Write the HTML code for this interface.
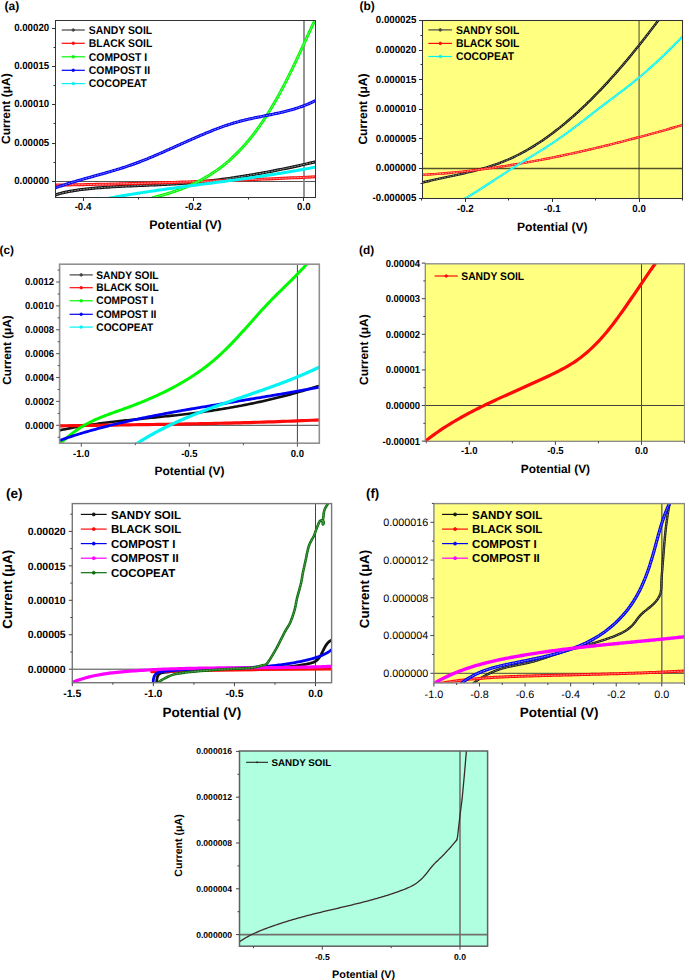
<!DOCTYPE html>
<html><head><meta charset="utf-8"><title>I-V curves</title>
<style>
html,body{margin:0;padding:0;background:#fff;width:685px;height:980px;overflow:hidden}
svg{display:block}
text{font-family:"Liberation Sans", sans-serif;text-rendering:geometricPrecision}
</style></head><body>
<svg width="685" height="980" viewBox="0 0 685 980">
<clipPath id="ca"><rect x="55.5" y="20.5" width="260" height="177"/></clipPath>
<line x1="55.5" y1="181.5" x2="315.5" y2="181.5" stroke="#555" stroke-width="1"/>
<line x1="304" y1="20.5" x2="304" y2="197.5" stroke="#8a8a8a" stroke-width="1.8"/>
<path d="M53.79 195.45 L56.05 194.71 L58.32 194.03 L60.61 193.4 L62.9 192.81 L65.21 192.28 L67.53 191.79 L69.86 191.34 L72.2 190.92 L74.55 190.54 L76.9 190.18 L79.26 189.86 L81.62 189.55 L83.98 189.26 L86.35 188.99 L88.72 188.74 L91.09 188.5 L93.46 188.27 L95.84 188.05 L98.21 187.85 L100.59 187.65 L102.97 187.47 L105.35 187.3 L107.74 187.13 L110.12 186.98 L112.51 186.83 L114.89 186.69 L117.28 186.56 L119.67 186.44 L122.06 186.32 L124.45 186.2 L126.84 186.09 L129.23 185.99 L131.62 185.89 L134.01 185.79 L136.41 185.69 L138.8 185.59 L141.19 185.5 L143.59 185.41 L145.98 185.31 L148.37 185.22 L150.77 185.12 L153.16 185.03 L155.55 184.93 L157.95 184.82 L160.34 184.72 L162.73 184.61 L165.12 184.49 L167.51 184.37 L169.9 184.24 L172.29 184.11 L174.68 183.97 L177.07 183.82 L179.45 183.66 L181.84 183.49 L184.22 183.32 L186.6 183.13 L188.98 182.94 L191.36 182.74 L193.74 182.53 L196.12 182.31 L198.5 182.08 L200.87 181.84 L203.25 181.6 L205.62 181.34 L207.99 181.08 L210.36 180.81 L212.73 180.53 L215.1 180.25 L217.47 179.95 L219.84 179.65 L222.2 179.34 L224.57 179.02 L226.93 178.7 L229.29 178.37 L231.65 178.03 L234.01 177.68 L236.37 177.33 L238.73 176.97 L241.09 176.6 L243.45 176.23 L245.8 175.84 L248.16 175.46 L250.51 175.06 L252.86 174.66 L255.21 174.25 L257.56 173.84 L259.91 173.42 L262.26 172.99 L264.61 172.56 L266.96 172.12 L269.3 171.68 L271.65 171.23 L273.99 170.77 L276.34 170.31 L278.68 169.84 L281.02 169.37 L283.36 168.89 L285.7 168.41 L288.04 167.92 L290.38 167.43 L292.71 166.93 L295.05 166.43 L297.39 165.92 L299.72 165.41 L302.06 164.89 L304.39 164.37 L306.72 163.84 L309.05 163.31 L311.38 162.78 L313.71 162.24 L316.04 161.7" fill="none" stroke="#111" stroke-width="3" stroke-linejoin="round" stroke-linecap="round" clip-path="url(#ca)"/>
<path d="M53.79 195.45 L56.05 194.71 L58.32 194.03 L60.61 193.4 L62.9 192.81 L65.21 192.28 L67.53 191.79 L69.86 191.34 L72.2 190.92 L74.55 190.54 L76.9 190.18 L79.26 189.86 L81.62 189.55 L83.98 189.26 L86.35 188.99 L88.72 188.74 L91.09 188.5 L93.46 188.27 L95.84 188.05 L98.21 187.85 L100.59 187.65 L102.97 187.47 L105.35 187.3 L107.74 187.13 L110.12 186.98 L112.51 186.83 L114.89 186.69 L117.28 186.56 L119.67 186.44 L122.06 186.32 L124.45 186.2 L126.84 186.09 L129.23 185.99 L131.62 185.89 L134.01 185.79 L136.41 185.69 L138.8 185.59 L141.19 185.5 L143.59 185.41 L145.98 185.31 L148.37 185.22 L150.77 185.12 L153.16 185.03 L155.55 184.93 L157.95 184.82 L160.34 184.72 L162.73 184.61 L165.12 184.49 L167.51 184.37 L169.9 184.24 L172.29 184.11 L174.68 183.97 L177.07 183.82 L179.45 183.66 L181.84 183.49 L184.22 183.32 L186.6 183.13 L188.98 182.94 L191.36 182.74 L193.74 182.53 L196.12 182.31 L198.5 182.08 L200.87 181.84 L203.25 181.6 L205.62 181.34 L207.99 181.08 L210.36 180.81 L212.73 180.53 L215.1 180.25 L217.47 179.95 L219.84 179.65 L222.2 179.34 L224.57 179.02 L226.93 178.7 L229.29 178.37 L231.65 178.03 L234.01 177.68 L236.37 177.33 L238.73 176.97 L241.09 176.6 L243.45 176.23 L245.8 175.84 L248.16 175.46 L250.51 175.06 L252.86 174.66 L255.21 174.25 L257.56 173.84 L259.91 173.42 L262.26 172.99 L264.61 172.56 L266.96 172.12 L269.3 171.68 L271.65 171.23 L273.99 170.77 L276.34 170.31 L278.68 169.84 L281.02 169.37 L283.36 168.89 L285.7 168.41 L288.04 167.92 L290.38 167.43 L292.71 166.93 L295.05 166.43 L297.39 165.92 L299.72 165.41 L302.06 164.89 L304.39 164.37 L306.72 163.84 L309.05 163.31 L311.38 162.78 L313.71 162.24 L316.04 161.7" fill="none" stroke="#aaa" stroke-width="0.8" stroke-linejoin="round" stroke-linecap="round" clip-path="url(#ca)" stroke-dasharray="1.5 1.5"/>
<path d="M54 185.13 L58.77 185.06 L63.53 184.98 L68.3 184.9 L73.06 184.82 L77.83 184.73 L82.59 184.65 L87.36 184.55 L92.13 184.46 L96.89 184.36 L101.66 184.26 L106.42 184.16 L111.19 184.05 L115.95 183.94 L120.72 183.83 L125.48 183.71 L130.25 183.59 L135.01 183.47 L139.77 183.34 L144.54 183.21 L149.3 183.08 L154.07 182.95 L158.83 182.81 L163.6 182.67 L168.36 182.53 L173.12 182.38 L177.89 182.23 L182.65 182.08 L187.41 181.93 L192.18 181.77 L196.94 181.61 L201.71 181.45 L206.47 181.28 L211.23 181.12 L215.99 180.95 L220.76 180.77 L225.52 180.6 L230.28 180.42 L235.05 180.23 L239.81 180.05 L244.57 179.86 L249.33 179.67 L254.1 179.48 L258.86 179.29 L263.62 179.09 L268.38 178.89 L273.14 178.69 L277.91 178.48 L282.67 178.27 L287.43 178.06 L292.19 177.85 L296.95 177.64 L301.71 177.42 L306.48 177.2 L311.24 176.98 L316 176.75" fill="none" stroke="#ff0a0a" stroke-width="3" stroke-linejoin="round" stroke-linecap="round" clip-path="url(#ca)"/>
<path d="M54 185.13 L58.77 185.06 L63.53 184.98 L68.3 184.9 L73.06 184.82 L77.83 184.73 L82.59 184.65 L87.36 184.55 L92.13 184.46 L96.89 184.36 L101.66 184.26 L106.42 184.16 L111.19 184.05 L115.95 183.94 L120.72 183.83 L125.48 183.71 L130.25 183.59 L135.01 183.47 L139.77 183.34 L144.54 183.21 L149.3 183.08 L154.07 182.95 L158.83 182.81 L163.6 182.67 L168.36 182.53 L173.12 182.38 L177.89 182.23 L182.65 182.08 L187.41 181.93 L192.18 181.77 L196.94 181.61 L201.71 181.45 L206.47 181.28 L211.23 181.12 L215.99 180.95 L220.76 180.77 L225.52 180.6 L230.28 180.42 L235.05 180.23 L239.81 180.05 L244.57 179.86 L249.33 179.67 L254.1 179.48 L258.86 179.29 L263.62 179.09 L268.38 178.89 L273.14 178.69 L277.91 178.48 L282.67 178.27 L287.43 178.06 L292.19 177.85 L296.95 177.64 L301.71 177.42 L306.48 177.2 L311.24 176.98 L316 176.75" fill="none" stroke="#ffbbbb" stroke-width="0.8" stroke-linejoin="round" stroke-linecap="round" clip-path="url(#ca)" stroke-dasharray="1.5 1.5"/>
<path d="M153.2 197.44 L154.63 197.11 L156.06 196.77 L157.48 196.42 L158.9 196.06 L160.32 195.69 L161.74 195.32 L163.16 194.93 L164.57 194.53 L165.98 194.12 L167.38 193.71 L168.78 193.28 L170.18 192.84 L171.58 192.4 L172.97 191.94 L174.36 191.47 L175.74 191 L177.12 190.51 L178.49 190.01 L179.86 189.51 L181.23 188.99 L182.59 188.46 L183.95 187.92 L185.3 187.37 L186.65 186.81 L187.99 186.24 L189.32 185.66 L190.65 185.07 L191.98 184.47 L193.29 183.86 L194.61 183.24 L195.91 182.6 L197.21 181.96 L198.51 181.3 L199.79 180.64 L201.07 179.96 L202.34 179.27 L203.61 178.57 L204.87 177.86 L206.12 177.14 L207.37 176.41 L208.6 175.66 L209.83 174.91 L211.05 174.14 L212.26 173.36 L213.47 172.57 L214.66 171.77 L215.85 170.96 L217.03 170.14 L218.2 169.3 L219.36 168.45 L220.52 167.6 L221.66 166.73 L222.79 165.84 L223.92 164.95 L225.04 164.05 L226.14 163.13 L227.24 162.21 L228.33 161.27 L229.42 160.32 L230.49 159.37 L231.55 158.4 L232.61 157.43 L233.66 156.44 L234.7 155.44 L235.73 154.44 L236.75 153.42 L237.77 152.4 L238.78 151.37 L239.78 150.33 L240.77 149.28 L241.75 148.22 L242.73 147.16 L243.7 146.08 L244.66 145 L245.61 143.91 L246.55 142.82 L247.49 141.71 L248.42 140.6 L249.35 139.48 L250.26 138.36 L251.17 137.23 L252.07 136.09 L252.97 134.95 L253.85 133.8 L254.73 132.64 L255.61 131.48 L256.48 130.31 L257.34 129.14 L258.19 127.96 L259.04 126.78 L259.88 125.59 L260.71 124.4 L261.54 123.2 L262.36 122 L263.17 120.8 L263.98 119.59 L264.78 118.37 L265.58 117.16 L266.37 115.93 L267.15 114.71 L267.93 113.48 L268.7 112.25 L269.47 111.01 L270.23 109.78 L270.99 108.53 L271.74 107.29 L272.48 106.04 L273.23 104.79 L273.96 103.54 L274.69 102.28 L275.42 101.02 L276.14 99.76 L276.85 98.49 L277.57 97.22 L278.27 95.95 L278.98 94.68 L279.67 93.4 L280.37 92.12 L281.06 90.84 L281.74 89.56 L282.43 88.28 L283.1 86.99 L283.78 85.7 L284.45 84.41 L285.12 83.12 L285.78 81.82 L286.44 80.52 L287.1 79.23 L287.76 77.93 L288.41 76.63 L289.06 75.32 L289.7 74.02 L290.34 72.71 L290.98 71.41 L291.62 70.1 L292.26 68.79 L292.89 67.48 L293.52 66.17 L294.15 64.86 L294.77 63.55 L295.4 62.23 L296.02 60.92 L296.64 59.6 L297.26 58.29 L297.88 56.97 L298.49 55.66 L299.11 54.34 L299.72 53.02 L300.33 51.71 L300.94 50.39 L301.55 49.07 L302.16 47.76 L302.76 46.44 L303.37 45.12 L303.98 43.81 L304.58 42.49 L305.19 41.18 L305.79 39.86 L306.4 38.55 L307 37.23 L307.6 35.92 L308.21 34.61 L308.81 33.29 L309.42 31.98 L310.02 30.67 L310.62 29.36 L311.23 28.06 L311.83 26.75 L312.44 25.44 L313.05 24.14 L313.66 22.84 L314.26 21.54 L314.87 20.24 L315.49 18.94 L316.1 17.64" fill="none" stroke="#00f800" stroke-width="3" stroke-linejoin="round" stroke-linecap="round" clip-path="url(#ca)"/>
<path d="M153.2 197.44 L154.63 197.11 L156.06 196.77 L157.48 196.42 L158.9 196.06 L160.32 195.69 L161.74 195.32 L163.16 194.93 L164.57 194.53 L165.98 194.12 L167.38 193.71 L168.78 193.28 L170.18 192.84 L171.58 192.4 L172.97 191.94 L174.36 191.47 L175.74 191 L177.12 190.51 L178.49 190.01 L179.86 189.51 L181.23 188.99 L182.59 188.46 L183.95 187.92 L185.3 187.37 L186.65 186.81 L187.99 186.24 L189.32 185.66 L190.65 185.07 L191.98 184.47 L193.29 183.86 L194.61 183.24 L195.91 182.6 L197.21 181.96 L198.51 181.3 L199.79 180.64 L201.07 179.96 L202.34 179.27 L203.61 178.57 L204.87 177.86 L206.12 177.14 L207.37 176.41 L208.6 175.66 L209.83 174.91 L211.05 174.14 L212.26 173.36 L213.47 172.57 L214.66 171.77 L215.85 170.96 L217.03 170.14 L218.2 169.3 L219.36 168.45 L220.52 167.6 L221.66 166.73 L222.79 165.84 L223.92 164.95 L225.04 164.05 L226.14 163.13 L227.24 162.21 L228.33 161.27 L229.42 160.32 L230.49 159.37 L231.55 158.4 L232.61 157.43 L233.66 156.44 L234.7 155.44 L235.73 154.44 L236.75 153.42 L237.77 152.4 L238.78 151.37 L239.78 150.33 L240.77 149.28 L241.75 148.22 L242.73 147.16 L243.7 146.08 L244.66 145 L245.61 143.91 L246.55 142.82 L247.49 141.71 L248.42 140.6 L249.35 139.48 L250.26 138.36 L251.17 137.23 L252.07 136.09 L252.97 134.95 L253.85 133.8 L254.73 132.64 L255.61 131.48 L256.48 130.31 L257.34 129.14 L258.19 127.96 L259.04 126.78 L259.88 125.59 L260.71 124.4 L261.54 123.2 L262.36 122 L263.17 120.8 L263.98 119.59 L264.78 118.37 L265.58 117.16 L266.37 115.93 L267.15 114.71 L267.93 113.48 L268.7 112.25 L269.47 111.01 L270.23 109.78 L270.99 108.53 L271.74 107.29 L272.48 106.04 L273.23 104.79 L273.96 103.54 L274.69 102.28 L275.42 101.02 L276.14 99.76 L276.85 98.49 L277.57 97.22 L278.27 95.95 L278.98 94.68 L279.67 93.4 L280.37 92.12 L281.06 90.84 L281.74 89.56 L282.43 88.28 L283.1 86.99 L283.78 85.7 L284.45 84.41 L285.12 83.12 L285.78 81.82 L286.44 80.52 L287.1 79.23 L287.76 77.93 L288.41 76.63 L289.06 75.32 L289.7 74.02 L290.34 72.71 L290.98 71.41 L291.62 70.1 L292.26 68.79 L292.89 67.48 L293.52 66.17 L294.15 64.86 L294.77 63.55 L295.4 62.23 L296.02 60.92 L296.64 59.6 L297.26 58.29 L297.88 56.97 L298.49 55.66 L299.11 54.34 L299.72 53.02 L300.33 51.71 L300.94 50.39 L301.55 49.07 L302.16 47.76 L302.76 46.44 L303.37 45.12 L303.98 43.81 L304.58 42.49 L305.19 41.18 L305.79 39.86 L306.4 38.55 L307 37.23 L307.6 35.92 L308.21 34.61 L308.81 33.29 L309.42 31.98 L310.02 30.67 L310.62 29.36 L311.23 28.06 L311.83 26.75 L312.44 25.44 L313.05 24.14 L313.66 22.84 L314.26 21.54 L314.87 20.24 L315.49 18.94 L316.1 17.64" fill="none" stroke="#aaffaa" stroke-width="0.8" stroke-linejoin="round" stroke-linecap="round" clip-path="url(#ca)" stroke-dasharray="1.5 1.5"/>
<path d="M54.03 188.38 L55.39 187.88 L56.76 187.39 L58.12 186.91 L59.49 186.44 L60.86 185.97 L62.24 185.51 L63.61 185.05 L64.99 184.6 L66.37 184.16 L67.75 183.72 L69.14 183.29 L70.52 182.86 L71.91 182.43 L73.3 182.02 L74.69 181.6 L76.08 181.19 L77.47 180.78 L78.87 180.37 L80.26 179.97 L81.66 179.57 L83.05 179.18 L84.45 178.78 L85.85 178.39 L87.25 178 L88.65 177.61 L90.05 177.22 L91.45 176.83 L92.85 176.44 L94.25 176.06 L95.65 175.67 L97.05 175.28 L98.45 174.89 L99.85 174.51 L101.25 174.12 L102.65 173.73 L104.05 173.33 L105.44 172.94 L106.84 172.54 L108.24 172.14 L109.63 171.74 L111.03 171.34 L112.42 170.93 L113.81 170.52 L115.2 170.1 L116.59 169.68 L117.98 169.26 L119.37 168.83 L120.75 168.4 L122.13 167.96 L123.51 167.52 L124.89 167.07 L126.27 166.62 L127.64 166.16 L129.02 165.69 L130.38 165.22 L131.75 164.74 L133.12 164.25 L134.48 163.76 L135.84 163.26 L137.2 162.75 L138.55 162.24 L139.91 161.73 L141.26 161.2 L142.61 160.68 L143.96 160.14 L145.31 159.6 L146.65 159.06 L147.99 158.52 L149.34 157.96 L150.68 157.41 L152.02 156.85 L153.35 156.29 L154.69 155.72 L156.02 155.15 L157.36 154.58 L158.69 154 L160.02 153.42 L161.35 152.84 L162.68 152.26 L164.01 151.67 L165.34 151.08 L166.67 150.49 L168 149.9 L169.32 149.31 L170.65 148.72 L171.97 148.12 L173.3 147.53 L174.62 146.93 L175.95 146.33 L177.27 145.74 L178.6 145.14 L179.92 144.54 L181.25 143.94 L182.57 143.35 L183.9 142.75 L185.22 142.16 L186.55 141.56 L187.87 140.97 L189.2 140.38 L190.53 139.79 L191.85 139.2 L193.18 138.62 L194.51 138.04 L195.84 137.45 L197.17 136.88 L198.5 136.3 L199.84 135.73 L201.17 135.16 L202.5 134.59 L203.84 134.03 L205.18 133.47 L206.52 132.92 L207.86 132.37 L209.2 131.82 L210.54 131.28 L211.88 130.74 L213.23 130.21 L214.58 129.69 L215.93 129.17 L217.28 128.65 L218.63 128.14 L219.99 127.64 L221.35 127.15 L222.71 126.66 L224.07 126.18 L225.43 125.7 L226.8 125.24 L228.17 124.78 L229.54 124.33 L230.92 123.89 L232.3 123.46 L233.68 123.04 L235.06 122.62 L236.45 122.22 L237.84 121.83 L239.23 121.44 L240.62 121.07 L242.02 120.71 L243.42 120.36 L244.83 120.02 L246.24 119.68 L247.65 119.36 L249.06 119.04 L250.47 118.73 L251.89 118.42 L253.3 118.12 L254.72 117.83 L256.14 117.54 L257.56 117.25 L258.99 116.97 L260.41 116.68 L261.83 116.4 L263.26 116.12 L264.68 115.84 L266.1 115.56 L267.53 115.28 L268.95 115 L270.37 114.72 L271.8 114.43 L273.22 114.14 L274.64 113.84 L276.06 113.54 L277.47 113.24 L278.89 112.93 L280.3 112.61 L281.71 112.29 L283.12 111.96 L284.53 111.62 L285.94 111.27 L287.34 110.91 L288.74 110.55 L290.14 110.17 L291.53 109.78 L292.92 109.38 L294.31 108.97 L295.7 108.55 L297.08 108.11 L298.45 107.66 L299.83 107.2 L301.19 106.72 L302.56 106.22 L303.92 105.71 L305.27 105.19 L306.62 104.64 L307.97 104.08 L309.31 103.5 L310.64 102.9 L311.97 102.29 L313.29 101.65 L314.61 100.99 L315.92 100.31" fill="none" stroke="#0000f4" stroke-width="3" stroke-linejoin="round" stroke-linecap="round" clip-path="url(#ca)"/>
<path d="M54.03 188.38 L55.39 187.88 L56.76 187.39 L58.12 186.91 L59.49 186.44 L60.86 185.97 L62.24 185.51 L63.61 185.05 L64.99 184.6 L66.37 184.16 L67.75 183.72 L69.14 183.29 L70.52 182.86 L71.91 182.43 L73.3 182.02 L74.69 181.6 L76.08 181.19 L77.47 180.78 L78.87 180.37 L80.26 179.97 L81.66 179.57 L83.05 179.18 L84.45 178.78 L85.85 178.39 L87.25 178 L88.65 177.61 L90.05 177.22 L91.45 176.83 L92.85 176.44 L94.25 176.06 L95.65 175.67 L97.05 175.28 L98.45 174.89 L99.85 174.51 L101.25 174.12 L102.65 173.73 L104.05 173.33 L105.44 172.94 L106.84 172.54 L108.24 172.14 L109.63 171.74 L111.03 171.34 L112.42 170.93 L113.81 170.52 L115.2 170.1 L116.59 169.68 L117.98 169.26 L119.37 168.83 L120.75 168.4 L122.13 167.96 L123.51 167.52 L124.89 167.07 L126.27 166.62 L127.64 166.16 L129.02 165.69 L130.38 165.22 L131.75 164.74 L133.12 164.25 L134.48 163.76 L135.84 163.26 L137.2 162.75 L138.55 162.24 L139.91 161.73 L141.26 161.2 L142.61 160.68 L143.96 160.14 L145.31 159.6 L146.65 159.06 L147.99 158.52 L149.34 157.96 L150.68 157.41 L152.02 156.85 L153.35 156.29 L154.69 155.72 L156.02 155.15 L157.36 154.58 L158.69 154 L160.02 153.42 L161.35 152.84 L162.68 152.26 L164.01 151.67 L165.34 151.08 L166.67 150.49 L168 149.9 L169.32 149.31 L170.65 148.72 L171.97 148.12 L173.3 147.53 L174.62 146.93 L175.95 146.33 L177.27 145.74 L178.6 145.14 L179.92 144.54 L181.25 143.94 L182.57 143.35 L183.9 142.75 L185.22 142.16 L186.55 141.56 L187.87 140.97 L189.2 140.38 L190.53 139.79 L191.85 139.2 L193.18 138.62 L194.51 138.04 L195.84 137.45 L197.17 136.88 L198.5 136.3 L199.84 135.73 L201.17 135.16 L202.5 134.59 L203.84 134.03 L205.18 133.47 L206.52 132.92 L207.86 132.37 L209.2 131.82 L210.54 131.28 L211.88 130.74 L213.23 130.21 L214.58 129.69 L215.93 129.17 L217.28 128.65 L218.63 128.14 L219.99 127.64 L221.35 127.15 L222.71 126.66 L224.07 126.18 L225.43 125.7 L226.8 125.24 L228.17 124.78 L229.54 124.33 L230.92 123.89 L232.3 123.46 L233.68 123.04 L235.06 122.62 L236.45 122.22 L237.84 121.83 L239.23 121.44 L240.62 121.07 L242.02 120.71 L243.42 120.36 L244.83 120.02 L246.24 119.68 L247.65 119.36 L249.06 119.04 L250.47 118.73 L251.89 118.42 L253.3 118.12 L254.72 117.83 L256.14 117.54 L257.56 117.25 L258.99 116.97 L260.41 116.68 L261.83 116.4 L263.26 116.12 L264.68 115.84 L266.1 115.56 L267.53 115.28 L268.95 115 L270.37 114.72 L271.8 114.43 L273.22 114.14 L274.64 113.84 L276.06 113.54 L277.47 113.24 L278.89 112.93 L280.3 112.61 L281.71 112.29 L283.12 111.96 L284.53 111.62 L285.94 111.27 L287.34 110.91 L288.74 110.55 L290.14 110.17 L291.53 109.78 L292.92 109.38 L294.31 108.97 L295.7 108.55 L297.08 108.11 L298.45 107.66 L299.83 107.2 L301.19 106.72 L302.56 106.22 L303.92 105.71 L305.27 105.19 L306.62 104.64 L307.97 104.08 L309.31 103.5 L310.64 102.9 L311.97 102.29 L313.29 101.65 L314.61 100.99 L315.92 100.31" fill="none" stroke="#9999ff" stroke-width="0.8" stroke-linejoin="round" stroke-linecap="round" clip-path="url(#ca)" stroke-dasharray="1.5 1.5"/>
<path d="M106.9 198.56 L109.09 198.16 L111.28 197.76 L113.47 197.36 L115.66 196.97 L117.85 196.59 L120.04 196.21 L122.23 195.83 L124.43 195.46 L126.62 195.1 L128.82 194.73 L131.01 194.38 L133.21 194.02 L135.41 193.67 L137.6 193.32 L139.8 192.98 L142 192.64 L144.2 192.3 L146.4 191.97 L148.6 191.64 L150.8 191.31 L153 190.98 L155.2 190.66 L157.41 190.34 L159.61 190.03 L161.81 189.71 L164.02 189.4 L166.22 189.09 L168.43 188.78 L170.63 188.48 L172.84 188.17 L175.04 187.87 L177.25 187.57 L179.45 187.27 L181.66 186.97 L183.87 186.68 L186.07 186.38 L188.28 186.09 L190.49 185.79 L192.7 185.5 L194.9 185.21 L197.11 184.92 L199.32 184.63 L201.53 184.34 L203.74 184.05 L205.94 183.76 L208.15 183.47 L210.36 183.18 L212.57 182.89 L214.78 182.6 L216.99 182.31 L219.19 182.02 L221.4 181.73 L223.61 181.43 L225.82 181.14 L228.03 180.85 L230.23 180.55 L232.44 180.26 L234.65 179.96 L236.85 179.66 L239.06 179.36 L241.27 179.05 L243.47 178.75 L245.68 178.44 L247.88 178.14 L250.09 177.83 L252.3 177.51 L254.5 177.2 L256.7 176.88 L258.91 176.56 L261.11 176.24 L263.31 175.91 L265.52 175.58 L267.72 175.25 L269.92 174.92 L272.12 174.58 L274.32 174.24 L276.52 173.89 L278.72 173.55 L280.92 173.19 L283.12 172.84 L285.31 172.48 L287.51 172.12 L289.71 171.75 L291.9 171.38 L294.1 171 L296.29 170.62 L298.48 170.23 L300.68 169.84 L302.87 169.45 L305.06 169.05 L307.25 168.64 L309.44 168.23 L311.62 167.81 L313.81 167.39 L316 166.97" fill="none" stroke="#00f4f4" stroke-width="3" stroke-linejoin="round" stroke-linecap="round" clip-path="url(#ca)"/>
<rect x="55.5" y="20.5" width="260" height="177" fill="none" stroke="#333" stroke-width="1"/>
<line x1="52" y1="181.5" x2="55.5" y2="181.5" stroke="#333" stroke-width="1"/>
<line x1="52" y1="143.5" x2="55.5" y2="143.5" stroke="#333" stroke-width="1"/>
<line x1="52" y1="104.5" x2="55.5" y2="104.5" stroke="#333" stroke-width="1"/>
<line x1="52" y1="66.5" x2="55.5" y2="66.5" stroke="#333" stroke-width="1"/>
<line x1="52" y1="28.5" x2="55.5" y2="28.5" stroke="#333" stroke-width="1"/>
<line x1="53.5" y1="162.5" x2="55.5" y2="162.5" stroke="#333" stroke-width="1"/>
<line x1="53.5" y1="123.5" x2="55.5" y2="123.5" stroke="#333" stroke-width="1"/>
<line x1="53.5" y1="85.5" x2="55.5" y2="85.5" stroke="#333" stroke-width="1"/>
<line x1="53.5" y1="47.5" x2="55.5" y2="47.5" stroke="#333" stroke-width="1"/>
<line x1="83.5" y1="197.5" x2="83.5" y2="201" stroke="#333" stroke-width="1"/>
<line x1="193.5" y1="197.5" x2="193.5" y2="201" stroke="#333" stroke-width="1"/>
<line x1="303.5" y1="197.5" x2="303.5" y2="201" stroke="#333" stroke-width="1"/>
<line x1="138.5" y1="197.5" x2="138.5" y2="199.5" stroke="#333" stroke-width="1"/>
<line x1="248.5" y1="197.5" x2="248.5" y2="199.5" stroke="#333" stroke-width="1"/>
<text x="49.2" y="184" font-size="10.28" font-weight="bold" text-anchor="end" fill="#000" textLength="35.06" lengthAdjust="spacingAndGlyphs">0.00000</text>
<text x="49.2" y="145.73" font-size="10.28" font-weight="bold" text-anchor="end" fill="#000" textLength="35.06" lengthAdjust="spacingAndGlyphs">0.00005</text>
<text x="49.2" y="107.46" font-size="10.28" font-weight="bold" text-anchor="end" fill="#000" textLength="35.06" lengthAdjust="spacingAndGlyphs">0.00010</text>
<text x="49.2" y="69.19" font-size="10.28" font-weight="bold" text-anchor="end" fill="#000" textLength="35.06" lengthAdjust="spacingAndGlyphs">0.00015</text>
<text x="49.2" y="30.92" font-size="10.28" font-weight="bold" text-anchor="end" fill="#000" textLength="35.06" lengthAdjust="spacingAndGlyphs">0.00020</text>
<text x="83" y="210.4" font-size="10.28" font-weight="bold" text-anchor="middle" fill="#000" textLength="16.72" lengthAdjust="spacingAndGlyphs">-0.4</text>
<text x="193.4" y="210.4" font-size="10.28" font-weight="bold" text-anchor="middle" fill="#000" textLength="16.72" lengthAdjust="spacingAndGlyphs">-0.2</text>
<text x="303.8" y="210.4" font-size="10.28" font-weight="bold" text-anchor="middle" fill="#000" textLength="13.48" lengthAdjust="spacingAndGlyphs">0.0</text>
<text x="185.5" y="229" font-size="12.4" font-weight="bold" text-anchor="middle" fill="#000">Potential (V)</text>
<text x="9.8" y="108.7" font-size="12" font-weight="bold" text-anchor="middle" fill="#000" transform="rotate(-90 9.8 108.7)">Current (&#956;A)</text>
<text x="4.5" y="9.5" font-size="12" font-weight="bold" text-anchor="start" fill="#000">(a)</text>
<line x1="61.7" y1="30" x2="84.8" y2="30" stroke="#444" stroke-width="1.2"/>
<circle cx="73.25" cy="30" r="1.3" fill="#444" stroke="#444" stroke-width="0.8"/>
<text x="88.8" y="33.7" font-size="11.23" font-weight="bold" text-anchor="start" fill="#000" textLength="63.38" lengthAdjust="spacingAndGlyphs">SANDY SOIL</text>
<line x1="61.7" y1="43.3" x2="84.8" y2="43.3" stroke="#ff0a0a" stroke-width="1.2"/>
<circle cx="73.25" cy="43.3" r="1.3" fill="#ff0a0a" stroke="#ff0a0a" stroke-width="0.8"/>
<text x="88.8" y="47" font-size="11.23" font-weight="bold" text-anchor="start" fill="#000" textLength="63.55" lengthAdjust="spacingAndGlyphs">BLACK SOIL</text>
<line x1="61.7" y1="56.8" x2="84.8" y2="56.8" stroke="#00f800" stroke-width="1.2"/>
<circle cx="73.25" cy="56.8" r="1.3" fill="#00f800" stroke="#00f800" stroke-width="0.8"/>
<text x="88.8" y="60.5" font-size="11.23" font-weight="bold" text-anchor="start" fill="#000" textLength="58.36" lengthAdjust="spacingAndGlyphs">COMPOST I</text>
<line x1="61.7" y1="70.3" x2="84.8" y2="70.3" stroke="#0000f4" stroke-width="1.2"/>
<circle cx="73.25" cy="70.3" r="1.3" fill="#0000f4" stroke="#0000f4" stroke-width="0.8"/>
<text x="88.8" y="74" font-size="11.23" font-weight="bold" text-anchor="start" fill="#000" textLength="61.25" lengthAdjust="spacingAndGlyphs">COMPOST II</text>
<line x1="61.7" y1="83.6" x2="84.8" y2="83.6" stroke="#00f4f4" stroke-width="1.2"/>
<circle cx="73.25" cy="83.6" r="1.3" fill="#00f4f4" stroke="#00f4f4" stroke-width="0.8"/>
<text x="88.8" y="87.3" font-size="11.23" font-weight="bold" text-anchor="start" fill="#000" textLength="58.17" lengthAdjust="spacingAndGlyphs">COCOPEAT</text>
<clipPath id="cb"><rect x="422.5" y="20.5" width="260" height="178"/></clipPath>
<rect x="422.5" y="20.5" width="260" height="178" fill="#ffff80"/>
<line x1="422.5" y1="168.5" x2="682.5" y2="168.5" stroke="rgba(0,0,0,0.68)" stroke-width="1.3"/>
<line x1="639.1" y1="20.5" x2="639.1" y2="198.5" stroke="rgba(40,40,40,0.5)" stroke-width="1.7"/>
<path d="M420.03 183.16 L422.28 182.59 L424.55 182.04 L426.83 181.5 L429.12 180.97 L431.42 180.44 L433.73 179.93 L436.04 179.41 L438.37 178.9 L440.7 178.4 L443.03 177.89 L445.37 177.39 L447.72 176.89 L450.07 176.38 L452.42 175.87 L454.77 175.36 L457.12 174.84 L459.48 174.32 L461.83 173.79 L464.19 173.25 L466.54 172.7 L468.89 172.13 L471.23 171.56 L473.57 170.97 L475.91 170.37 L478.24 169.75 L480.56 169.12 L482.88 168.47 L485.19 167.8 L487.49 167.11 L489.78 166.39 L492.06 165.66 L494.33 164.9 L496.59 164.11 L498.84 163.3 L501.07 162.46 L503.29 161.59 L505.49 160.7 L507.68 159.77 L509.86 158.82 L512.02 157.84 L514.17 156.83 L516.3 155.79 L518.42 154.73 L520.53 153.65 L522.62 152.53 L524.7 151.4 L526.77 150.24 L528.82 149.05 L530.86 147.85 L532.89 146.62 L534.9 145.37 L536.91 144.09 L538.9 142.8 L540.88 141.49 L542.84 140.15 L544.8 138.8 L546.74 137.43 L548.68 136.04 L550.6 134.63 L552.51 133.21 L554.4 131.77 L556.29 130.32 L558.17 128.84 L560.03 127.36 L561.89 125.86 L563.73 124.34 L565.57 122.82 L567.39 121.27 L569.21 119.72 L571.01 118.16 L572.81 116.58 L574.59 115 L576.37 113.4 L578.13 111.79 L579.89 110.18 L581.64 108.55 L583.38 106.91 L585.11 105.27 L586.83 103.61 L588.54 101.95 L590.25 100.27 L591.94 98.59 L593.63 96.9 L595.31 95.2 L596.98 93.49 L598.64 91.77 L600.3 90.05 L601.94 88.32 L603.58 86.58 L605.21 84.83 L606.84 83.08 L608.45 81.32 L610.06 79.55 L611.66 77.77 L613.26 75.99 L614.85 74.21 L616.43 72.41 L618 70.61 L619.57 68.81 L621.13 67 L622.68 65.18 L624.23 63.36 L625.77 61.53 L627.3 59.7 L628.83 57.87 L630.35 56.03 L631.87 54.18 L633.38 52.33 L634.89 50.48 L636.39 48.62 L637.88 46.76 L639.37 44.9 L640.85 43.03 L642.33 41.16 L643.8 39.29 L645.27 37.42 L646.73 35.54 L648.19 33.66 L649.65 31.78 L651.09 29.89 L652.54 28.01 L653.98 26.12 L655.42 24.23 L656.85 22.34 L658.27 20.45 L659.7 18.56 L661.12 16.66" fill="none" stroke="#111" stroke-width="2.4" stroke-linejoin="round" stroke-linecap="round" clip-path="url(#cb)"/>
<path d="M420.03 183.16 L422.28 182.59 L424.55 182.04 L426.83 181.5 L429.12 180.97 L431.42 180.44 L433.73 179.93 L436.04 179.41 L438.37 178.9 L440.7 178.4 L443.03 177.89 L445.37 177.39 L447.72 176.89 L450.07 176.38 L452.42 175.87 L454.77 175.36 L457.12 174.84 L459.48 174.32 L461.83 173.79 L464.19 173.25 L466.54 172.7 L468.89 172.13 L471.23 171.56 L473.57 170.97 L475.91 170.37 L478.24 169.75 L480.56 169.12 L482.88 168.47 L485.19 167.8 L487.49 167.11 L489.78 166.39 L492.06 165.66 L494.33 164.9 L496.59 164.11 L498.84 163.3 L501.07 162.46 L503.29 161.59 L505.49 160.7 L507.68 159.77 L509.86 158.82 L512.02 157.84 L514.17 156.83 L516.3 155.79 L518.42 154.73 L520.53 153.65 L522.62 152.53 L524.7 151.4 L526.77 150.24 L528.82 149.05 L530.86 147.85 L532.89 146.62 L534.9 145.37 L536.91 144.09 L538.9 142.8 L540.88 141.49 L542.84 140.15 L544.8 138.8 L546.74 137.43 L548.68 136.04 L550.6 134.63 L552.51 133.21 L554.4 131.77 L556.29 130.32 L558.17 128.84 L560.03 127.36 L561.89 125.86 L563.73 124.34 L565.57 122.82 L567.39 121.27 L569.21 119.72 L571.01 118.16 L572.81 116.58 L574.59 115 L576.37 113.4 L578.13 111.79 L579.89 110.18 L581.64 108.55 L583.38 106.91 L585.11 105.27 L586.83 103.61 L588.54 101.95 L590.25 100.27 L591.94 98.59 L593.63 96.9 L595.31 95.2 L596.98 93.49 L598.64 91.77 L600.3 90.05 L601.94 88.32 L603.58 86.58 L605.21 84.83 L606.84 83.08 L608.45 81.32 L610.06 79.55 L611.66 77.77 L613.26 75.99 L614.85 74.21 L616.43 72.41 L618 70.61 L619.57 68.81 L621.13 67 L622.68 65.18 L624.23 63.36 L625.77 61.53 L627.3 59.7 L628.83 57.87 L630.35 56.03 L631.87 54.18 L633.38 52.33 L634.89 50.48 L636.39 48.62 L637.88 46.76 L639.37 44.9 L640.85 43.03 L642.33 41.16 L643.8 39.29 L645.27 37.42 L646.73 35.54 L648.19 33.66 L649.65 31.78 L651.09 29.89 L652.54 28.01 L653.98 26.12 L655.42 24.23 L656.85 22.34 L658.27 20.45 L659.7 18.56 L661.12 16.66" fill="none" stroke="#bbb" stroke-width="0.7" stroke-linejoin="round" stroke-linecap="round" clip-path="url(#cb)" stroke-dasharray="1.2 1.6"/>
<path d="M419.99 174.95 L422.83 174.8 L425.66 174.63 L428.5 174.46 L431.33 174.28 L434.17 174.08 L437 173.88 L439.83 173.66 L442.66 173.44 L445.49 173.2 L448.31 172.95 L451.14 172.7 L453.96 172.43 L456.79 172.16 L459.61 171.88 L462.43 171.58 L465.25 171.28 L468.06 170.97 L470.88 170.64 L473.7 170.31 L476.51 169.97 L479.32 169.62 L482.13 169.27 L484.94 168.9 L487.75 168.52 L490.56 168.14 L493.37 167.75 L496.17 167.34 L498.98 166.93 L501.78 166.52 L504.58 166.09 L507.38 165.65 L510.18 165.21 L512.98 164.76 L515.77 164.3 L518.57 163.83 L521.36 163.36 L524.15 162.88 L526.94 162.39 L529.73 161.89 L532.52 161.39 L535.31 160.87 L538.1 160.35 L540.88 159.83 L543.67 159.29 L546.45 158.75 L549.23 158.21 L552.01 157.65 L554.79 157.09 L557.57 156.52 L560.34 155.95 L563.12 155.37 L565.89 154.78 L568.66 154.19 L571.43 153.59 L574.2 152.98 L576.97 152.37 L579.74 151.75 L582.51 151.12 L585.27 150.49 L588.03 149.86 L590.8 149.22 L593.56 148.57 L596.32 147.92 L599.08 147.26 L601.83 146.6 L604.59 145.93 L607.34 145.25 L610.1 144.57 L612.85 143.89 L615.6 143.2 L618.35 142.51 L621.1 141.81 L623.85 141.11 L626.59 140.4 L629.34 139.69 L632.08 138.97 L634.82 138.25 L637.56 137.52 L640.3 136.79 L643.04 136.06 L645.78 135.32 L648.52 134.58 L651.25 133.84 L653.98 133.09 L656.72 132.34 L659.45 131.58 L662.18 130.82 L664.91 130.06 L667.63 129.29 L670.36 128.52 L673.08 127.75 L675.81 126.97 L678.53 126.19 L681.25 125.41 L683.97 124.63" fill="none" stroke="#ff0a0a" stroke-width="2.4" stroke-linejoin="round" stroke-linecap="round" clip-path="url(#cb)"/>
<path d="M419.99 174.95 L422.83 174.8 L425.66 174.63 L428.5 174.46 L431.33 174.28 L434.17 174.08 L437 173.88 L439.83 173.66 L442.66 173.44 L445.49 173.2 L448.31 172.95 L451.14 172.7 L453.96 172.43 L456.79 172.16 L459.61 171.88 L462.43 171.58 L465.25 171.28 L468.06 170.97 L470.88 170.64 L473.7 170.31 L476.51 169.97 L479.32 169.62 L482.13 169.27 L484.94 168.9 L487.75 168.52 L490.56 168.14 L493.37 167.75 L496.17 167.34 L498.98 166.93 L501.78 166.52 L504.58 166.09 L507.38 165.65 L510.18 165.21 L512.98 164.76 L515.77 164.3 L518.57 163.83 L521.36 163.36 L524.15 162.88 L526.94 162.39 L529.73 161.89 L532.52 161.39 L535.31 160.87 L538.1 160.35 L540.88 159.83 L543.67 159.29 L546.45 158.75 L549.23 158.21 L552.01 157.65 L554.79 157.09 L557.57 156.52 L560.34 155.95 L563.12 155.37 L565.89 154.78 L568.66 154.19 L571.43 153.59 L574.2 152.98 L576.97 152.37 L579.74 151.75 L582.51 151.12 L585.27 150.49 L588.03 149.86 L590.8 149.22 L593.56 148.57 L596.32 147.92 L599.08 147.26 L601.83 146.6 L604.59 145.93 L607.34 145.25 L610.1 144.57 L612.85 143.89 L615.6 143.2 L618.35 142.51 L621.1 141.81 L623.85 141.11 L626.59 140.4 L629.34 139.69 L632.08 138.97 L634.82 138.25 L637.56 137.52 L640.3 136.79 L643.04 136.06 L645.78 135.32 L648.52 134.58 L651.25 133.84 L653.98 133.09 L656.72 132.34 L659.45 131.58 L662.18 130.82 L664.91 130.06 L667.63 129.29 L670.36 128.52 L673.08 127.75 L675.81 126.97 L678.53 126.19 L681.25 125.41 L683.97 124.63" fill="none" stroke="#ffdddd" stroke-width="0.7" stroke-linejoin="round" stroke-linecap="round" clip-path="url(#cb)" stroke-dasharray="1.2 1.6"/>
<path d="M463.5 199.49 L465.49 198.31 L467.48 197.12 L469.46 195.92 L471.43 194.71 L473.4 193.49 L475.37 192.26 L477.33 191.02 L479.29 189.78 L481.25 188.54 L483.2 187.28 L485.15 186.03 L487.1 184.77 L489.04 183.5 L490.99 182.23 L492.93 180.97 L494.87 179.7 L496.81 178.42 L498.75 177.15 L500.7 175.88 L502.64 174.61 L504.58 173.35 L506.53 172.08 L508.48 170.82 L510.43 169.56 L512.38 168.31 L514.34 167.06 L516.3 165.82 L518.26 164.58 L520.23 163.35 L522.2 162.13 L524.17 160.91 L526.15 159.69 L528.12 158.48 L530.1 157.26 L532.07 156.05 L534.05 154.83 L536.02 153.61 L537.99 152.39 L539.95 151.17 L541.92 149.94 L543.87 148.7 L545.83 147.45 L547.77 146.2 L549.71 144.94 L551.64 143.67 L553.57 142.38 L555.48 141.09 L557.39 139.78 L559.3 138.46 L561.19 137.14 L563.08 135.8 L564.96 134.45 L566.83 133.09 L568.7 131.73 L570.56 130.35 L572.41 128.96 L574.26 127.57 L576.1 126.17 L577.94 124.76 L579.77 123.34 L581.61 121.92 L583.43 120.5 L585.26 119.07 L587.09 117.65 L588.92 116.22 L590.75 114.79 L592.58 113.37 L594.41 111.95 L596.25 110.53 L598.09 109.12 L599.93 107.71 L601.77 106.3 L603.62 104.9 L605.47 103.5 L607.32 102.1 L609.17 100.7 L611.02 99.31 L612.87 97.92 L614.73 96.52 L616.58 95.13 L618.43 93.73 L620.27 92.33 L622.12 90.93 L623.96 89.52 L625.79 88.1 L627.62 86.68 L629.44 85.26 L631.26 83.82 L633.07 82.38 L634.88 80.92 L636.67 79.46 L638.46 77.99 L640.24 76.51 L642.01 75.01 L643.77 73.51 L645.53 71.99 L647.27 70.47 L649.01 68.94 L650.74 67.39 L652.46 65.84 L654.18 64.28 L655.89 62.71 L657.59 61.13 L659.28 59.55 L660.97 57.95 L662.65 56.35 L664.32 54.74 L665.99 53.13 L667.65 51.51 L669.31 49.88 L670.96 48.24 L672.61 46.6 L674.25 44.96 L675.88 43.31 L677.51 41.65 L679.14 39.99 L680.76 38.32 L682.38 36.65 L683.99 34.98" fill="none" stroke="#00f4f4" stroke-width="2.2" stroke-linejoin="round" stroke-linecap="round" clip-path="url(#cb)"/>
<path d="M463.5 199.49 L465.49 198.31 L467.48 197.12 L469.46 195.92 L471.43 194.71 L473.4 193.49 L475.37 192.26 L477.33 191.02 L479.29 189.78 L481.25 188.54 L483.2 187.28 L485.15 186.03 L487.1 184.77 L489.04 183.5 L490.99 182.23 L492.93 180.97 L494.87 179.7 L496.81 178.42 L498.75 177.15 L500.7 175.88 L502.64 174.61 L504.58 173.35 L506.53 172.08 L508.48 170.82 L510.43 169.56 L512.38 168.31 L514.34 167.06 L516.3 165.82 L518.26 164.58 L520.23 163.35 L522.2 162.13 L524.17 160.91 L526.15 159.69 L528.12 158.48 L530.1 157.26 L532.07 156.05 L534.05 154.83 L536.02 153.61 L537.99 152.39 L539.95 151.17 L541.92 149.94 L543.87 148.7 L545.83 147.45 L547.77 146.2 L549.71 144.94 L551.64 143.67 L553.57 142.38 L555.48 141.09 L557.39 139.78 L559.3 138.46 L561.19 137.14 L563.08 135.8 L564.96 134.45 L566.83 133.09 L568.7 131.73 L570.56 130.35 L572.41 128.96 L574.26 127.57 L576.1 126.17 L577.94 124.76 L579.77 123.34 L581.61 121.92 L583.43 120.5 L585.26 119.07 L587.09 117.65 L588.92 116.22 L590.75 114.79 L592.58 113.37 L594.41 111.95 L596.25 110.53 L598.09 109.12 L599.93 107.71 L601.77 106.3 L603.62 104.9 L605.47 103.5 L607.32 102.1 L609.17 100.7 L611.02 99.31 L612.87 97.92 L614.73 96.52 L616.58 95.13 L618.43 93.73 L620.27 92.33 L622.12 90.93 L623.96 89.52 L625.79 88.1 L627.62 86.68 L629.44 85.26 L631.26 83.82 L633.07 82.38 L634.88 80.92 L636.67 79.46 L638.46 77.99 L640.24 76.51 L642.01 75.01 L643.77 73.51 L645.53 71.99 L647.27 70.47 L649.01 68.94 L650.74 67.39 L652.46 65.84 L654.18 64.28 L655.89 62.71 L657.59 61.13 L659.28 59.55 L660.97 57.95 L662.65 56.35 L664.32 54.74 L665.99 53.13 L667.65 51.51 L669.31 49.88 L670.96 48.24 L672.61 46.6 L674.25 44.96 L675.88 43.31 L677.51 41.65 L679.14 39.99 L680.76 38.32 L682.38 36.65 L683.99 34.98" fill="none" stroke="#ccffff" stroke-width="0.6" stroke-linejoin="round" stroke-linecap="round" clip-path="url(#cb)" stroke-dasharray="1.2 1.6"/>
<rect x="422.5" y="20.5" width="260" height="178" fill="none" stroke="#333" stroke-width="1.05"/>
<line x1="419" y1="198.5" x2="422.5" y2="198.5" stroke="#333" stroke-width="1"/>
<line x1="419" y1="168.5" x2="422.5" y2="168.5" stroke="#333" stroke-width="1"/>
<line x1="419" y1="138.5" x2="422.5" y2="138.5" stroke="#333" stroke-width="1"/>
<line x1="419" y1="109.5" x2="422.5" y2="109.5" stroke="#333" stroke-width="1"/>
<line x1="419" y1="79.5" x2="422.5" y2="79.5" stroke="#333" stroke-width="1"/>
<line x1="419" y1="50.5" x2="422.5" y2="50.5" stroke="#333" stroke-width="1"/>
<line x1="419" y1="20.5" x2="422.5" y2="20.5" stroke="#333" stroke-width="1"/>
<line x1="420.5" y1="183.5" x2="422.5" y2="183.5" stroke="#333" stroke-width="1"/>
<line x1="420.5" y1="153.5" x2="422.5" y2="153.5" stroke="#333" stroke-width="1"/>
<line x1="420.5" y1="124.5" x2="422.5" y2="124.5" stroke="#333" stroke-width="1"/>
<line x1="420.5" y1="94.5" x2="422.5" y2="94.5" stroke="#333" stroke-width="1"/>
<line x1="420.5" y1="64.5" x2="422.5" y2="64.5" stroke="#333" stroke-width="1"/>
<line x1="420.5" y1="35.5" x2="422.5" y2="35.5" stroke="#333" stroke-width="1"/>
<line x1="465.5" y1="198.5" x2="465.5" y2="202" stroke="#333" stroke-width="1"/>
<line x1="552.5" y1="198.5" x2="552.5" y2="202" stroke="#333" stroke-width="1"/>
<line x1="639.5" y1="198.5" x2="639.5" y2="202" stroke="#333" stroke-width="1"/>
<line x1="421.5" y1="198.5" x2="421.5" y2="200.5" stroke="#333" stroke-width="1"/>
<line x1="508.5" y1="198.5" x2="508.5" y2="200.5" stroke="#333" stroke-width="1"/>
<line x1="595.5" y1="198.5" x2="595.5" y2="200.5" stroke="#333" stroke-width="1"/>
<line x1="682.5" y1="198.5" x2="682.5" y2="200.5" stroke="#333" stroke-width="1"/>
<text x="416.3" y="201.02" font-size="10.28" font-weight="bold" text-anchor="end" fill="#000" textLength="43.69" lengthAdjust="spacingAndGlyphs">-0.000005</text>
<text x="416.3" y="171.4" font-size="10.28" font-weight="bold" text-anchor="end" fill="#000" textLength="40.46" lengthAdjust="spacingAndGlyphs">0.000000</text>
<text x="416.3" y="141.78" font-size="10.28" font-weight="bold" text-anchor="end" fill="#000" textLength="40.46" lengthAdjust="spacingAndGlyphs">0.000005</text>
<text x="416.3" y="112.16" font-size="10.28" font-weight="bold" text-anchor="end" fill="#000" textLength="40.46" lengthAdjust="spacingAndGlyphs">0.000010</text>
<text x="416.3" y="82.54" font-size="10.28" font-weight="bold" text-anchor="end" fill="#000" textLength="40.46" lengthAdjust="spacingAndGlyphs">0.000015</text>
<text x="416.3" y="52.92" font-size="10.28" font-weight="bold" text-anchor="end" fill="#000" textLength="40.46" lengthAdjust="spacingAndGlyphs">0.000020</text>
<text x="416.3" y="23.3" font-size="10.28" font-weight="bold" text-anchor="end" fill="#000" textLength="40.46" lengthAdjust="spacingAndGlyphs">0.000025</text>
<text x="465.3" y="211.8" font-size="10.28" font-weight="bold" text-anchor="middle" fill="#000" textLength="16.72" lengthAdjust="spacingAndGlyphs">-0.2</text>
<text x="552.2" y="211.8" font-size="10.28" font-weight="bold" text-anchor="middle" fill="#000" textLength="16.72" lengthAdjust="spacingAndGlyphs">-0.1</text>
<text x="639.1" y="211.8" font-size="10.28" font-weight="bold" text-anchor="middle" fill="#000" textLength="13.48" lengthAdjust="spacingAndGlyphs">0.0</text>
<text x="552.3" y="230.8" font-size="12.1" font-weight="bold" text-anchor="middle" fill="#000">Potential (V)</text>
<text x="367.4" y="109" font-size="12.1" font-weight="bold" text-anchor="middle" fill="#000" transform="rotate(-90 367.4 109)">Current (&#956;A)</text>
<text x="359.5" y="9.5" font-size="12" font-weight="bold" text-anchor="start" fill="#000">(b)</text>
<line x1="428.4" y1="29.9" x2="452.1" y2="29.9" stroke="#444" stroke-width="1.2"/>
<circle cx="440.25" cy="29.9" r="1.3" fill="#444" stroke="#444" stroke-width="0.8"/>
<text x="455.9" y="33.6" font-size="11.23" font-weight="bold" text-anchor="start" fill="#000" textLength="63.38" lengthAdjust="spacingAndGlyphs">SANDY SOIL</text>
<line x1="428.4" y1="43.4" x2="452.1" y2="43.4" stroke="#ff0a0a" stroke-width="1.2"/>
<circle cx="440.25" cy="43.4" r="1.3" fill="#ff0a0a" stroke="#ff0a0a" stroke-width="0.8"/>
<text x="455.9" y="47.1" font-size="11.23" font-weight="bold" text-anchor="start" fill="#000" textLength="63.55" lengthAdjust="spacingAndGlyphs">BLACK SOIL</text>
<line x1="428.4" y1="56.5" x2="452.1" y2="56.5" stroke="#00f4f4" stroke-width="1.2"/>
<circle cx="440.25" cy="56.5" r="1.3" fill="#00f4f4" stroke="#00f4f4" stroke-width="0.8"/>
<text x="455.9" y="60.2" font-size="11.23" font-weight="bold" text-anchor="start" fill="#000" textLength="58.17" lengthAdjust="spacingAndGlyphs">COCOPEAT</text>
<clipPath id="cc"><rect x="59.6" y="264.2" width="259.7" height="179"/></clipPath>
<line x1="59.6" y1="425.3" x2="319.3" y2="425.3" stroke="#444" stroke-width="1"/>
<line x1="297.4" y1="264.2" x2="297.4" y2="443.2" stroke="#444" stroke-width="1"/>
<path d="M57.03 430.9 L59.09 430.45 L61.16 430.01 L63.23 429.58 L65.3 429.16 L67.38 428.75 L69.45 428.35 L71.53 427.96 L73.61 427.58 L75.69 427.21 L77.77 426.85 L79.85 426.49 L81.93 426.15 L84.02 425.81 L86.1 425.48 L88.19 425.16 L90.28 424.85 L92.37 424.54 L94.46 424.24 L96.55 423.95 L98.64 423.66 L100.74 423.38 L102.83 423.1 L104.92 422.83 L107.02 422.57 L109.12 422.31 L111.21 422.06 L113.31 421.81 L115.41 421.56 L117.51 421.32 L119.61 421.08 L121.71 420.85 L123.81 420.62 L125.91 420.39 L128.02 420.17 L130.12 419.95 L132.22 419.73 L134.32 419.51 L136.43 419.29 L138.53 419.08 L140.63 418.86 L142.74 418.65 L144.84 418.44 L146.94 418.23 L149.05 418.02 L151.15 417.81 L153.25 417.6 L155.36 417.39 L157.46 417.18 L159.56 416.96 L161.67 416.75 L163.77 416.53 L165.87 416.32 L167.97 416.1 L170.07 415.88 L172.17 415.65 L174.27 415.42 L176.37 415.19 L178.47 414.96 L180.57 414.72 L182.67 414.48 L184.77 414.24 L186.86 413.99 L188.96 413.74 L191.05 413.48 L193.15 413.22 L195.24 412.95 L197.33 412.67 L199.42 412.4 L201.51 412.11 L203.6 411.82 L205.69 411.53 L207.78 411.23 L209.87 410.93 L211.95 410.62 L214.04 410.3 L216.12 409.98 L218.21 409.65 L220.29 409.32 L222.37 408.99 L224.45 408.64 L226.53 408.29 L228.61 407.94 L230.68 407.58 L232.76 407.21 L234.83 406.84 L236.91 406.46 L238.98 406.08 L241.05 405.69 L243.12 405.29 L245.19 404.89 L247.26 404.48 L249.33 404.06 L251.4 403.64 L253.46 403.22 L255.52 402.78 L257.59 402.34 L259.65 401.89 L261.71 401.44 L263.77 400.98 L265.83 400.51 L267.88 400.04 L269.94 399.56 L271.99 399.07 L274.05 398.58 L276.1 398.08 L278.15 397.57 L280.2 397.06 L282.25 396.53 L284.29 396.01 L286.34 395.47 L288.38 394.93 L290.43 394.38 L292.47 393.82 L294.51 393.25 L296.55 392.68 L298.59 392.1 L300.62 391.52 L302.66 390.92 L304.69 390.32 L306.72 389.71 L308.75 389.09 L310.78 388.47 L312.81 387.83 L314.84 387.19 L316.86 386.55 L318.89 385.89 L320.91 385.23" fill="none" stroke="#111" stroke-width="2.6" stroke-linejoin="round" stroke-linecap="round" clip-path="url(#cc)"/>
<path d="M57 425.93 L61.8 425.84 L66.6 425.76 L71.4 425.68 L76.2 425.61 L81 425.53 L85.8 425.46 L90.6 425.38 L95.4 425.31 L100.2 425.24 L105 425.17 L109.81 425.11 L114.61 425.04 L119.41 424.97 L124.21 424.9 L129.01 424.83 L133.81 424.77 L138.61 424.7 L143.41 424.63 L148.22 424.56 L153.02 424.49 L157.82 424.42 L162.62 424.34 L167.42 424.27 L172.22 424.19 L177.02 424.11 L181.82 424.03 L186.62 423.94 L191.43 423.86 L196.23 423.77 L201.03 423.67 L205.83 423.58 L210.63 423.48 L215.43 423.38 L220.23 423.27 L225.03 423.16 L229.83 423.05 L234.63 422.93 L239.43 422.8 L244.23 422.67 L249.03 422.54 L253.83 422.4 L258.63 422.26 L263.43 422.11 L268.23 421.95 L273.02 421.79 L277.82 421.63 L282.62 421.45 L287.42 421.27 L292.22 421.09 L297.02 420.89 L301.81 420.69 L306.61 420.48 L311.41 420.27 L316.2 420.05 L321 419.81" fill="none" stroke="#ff0a0a" stroke-width="3.2" stroke-linejoin="round" stroke-linecap="round" clip-path="url(#cc)"/>
<path d="M59.14 444.27 L60.39 443.2 L61.65 442.13 L62.91 441.06 L64.18 439.98 L65.45 438.91 L66.73 437.85 L68.01 436.79 L69.31 435.74 L70.61 434.7 L71.92 433.67 L73.24 432.66 L74.57 431.66 L75.91 430.69 L77.26 429.73 L78.63 428.8 L80 427.9 L81.39 427.02 L82.8 426.16 L84.21 425.33 L85.64 424.53 L87.07 423.74 L88.52 422.98 L89.98 422.24 L91.44 421.52 L92.92 420.82 L94.41 420.13 L95.9 419.46 L97.4 418.81 L98.91 418.17 L100.42 417.55 L101.94 416.93 L103.47 416.33 L105 415.73 L106.53 415.15 L108.07 414.57 L109.62 414 L111.16 413.44 L112.71 412.88 L114.26 412.32 L115.82 411.77 L117.37 411.22 L118.93 410.66 L120.49 410.11 L122.04 409.56 L123.6 409 L125.15 408.44 L126.71 407.87 L128.26 407.3 L129.81 406.73 L131.35 406.15 L132.9 405.56 L134.44 404.97 L135.98 404.37 L137.52 403.77 L139.06 403.16 L140.59 402.54 L142.12 401.92 L143.65 401.3 L145.18 400.66 L146.7 400.02 L148.22 399.38 L149.73 398.72 L151.25 398.07 L152.76 397.4 L154.26 396.73 L155.76 396.05 L157.26 395.36 L158.76 394.67 L160.25 393.97 L161.73 393.26 L163.21 392.55 L164.69 391.82 L166.17 391.09 L167.63 390.36 L169.1 389.61 L170.56 388.86 L172.01 388.1 L173.46 387.33 L174.91 386.55 L176.35 385.77 L177.78 384.97 L179.21 384.17 L180.63 383.36 L182.05 382.54 L183.46 381.71 L184.87 380.88 L186.27 380.03 L187.66 379.18 L189.05 378.31 L190.43 377.44 L191.81 376.56 L193.18 375.67 L194.54 374.77 L195.9 373.85 L197.25 372.93 L198.59 372 L199.93 371.06 L201.25 370.11 L202.57 369.15 L203.89 368.18 L205.2 367.2 L206.49 366.21 L207.79 365.21 L209.07 364.2 L210.34 363.18 L211.61 362.14 L212.87 361.1 L214.12 360.04 L215.37 358.98 L216.6 357.9 L217.83 356.81 L219.05 355.71 L220.26 354.61 L221.46 353.49 L222.66 352.36 L223.85 351.22 L225.03 350.08 L226.21 348.92 L227.38 347.76 L228.54 346.59 L229.7 345.42 L230.86 344.23 L232.01 343.04 L233.15 341.85 L234.29 340.65 L235.42 339.44 L236.56 338.23 L237.68 337.01 L238.81 335.79 L239.93 334.57 L241.05 333.34 L242.16 332.11 L243.28 330.88 L244.39 329.64 L245.5 328.4 L246.61 327.16 L247.71 325.92 L248.82 324.68 L249.92 323.44 L251.03 322.2 L252.13 320.96 L253.23 319.71 L254.34 318.47 L255.44 317.24 L256.55 316 L257.66 314.76 L258.76 313.53 L259.87 312.3 L260.98 311.08 L262.1 309.85 L263.21 308.63 L264.33 307.42 L265.45 306.21 L266.58 305.01 L267.71 303.81 L268.84 302.62 L269.98 301.43 L271.12 300.25 L272.26 299.07 L273.41 297.91 L274.56 296.75 L275.72 295.59 L276.88 294.44 L278.04 293.29 L279.2 292.14 L280.37 291 L281.53 289.86 L282.7 288.72 L283.87 287.58 L285.04 286.44 L286.21 285.3 L287.37 284.16 L288.54 283.01 L289.71 281.87 L290.87 280.72 L292.03 279.57 L293.19 278.41 L294.35 277.25 L295.5 276.08 L296.65 274.9 L297.8 273.72 L298.94 272.54 L300.08 271.34 L301.21 270.13 L302.34 268.92 L303.46 267.69 L304.58 266.46 L305.68 265.21 L306.79 263.95 L307.88 262.68 L308.97 261.4" fill="none" stroke="#00f800" stroke-width="3" stroke-linejoin="round" stroke-linecap="round" clip-path="url(#cc)"/>
<path d="M56.92 441.36 L58.93 440.65 L60.94 439.95 L62.96 439.25 L64.97 438.57 L66.99 437.89 L69.01 437.22 L71.03 436.56 L73.06 435.91 L75.08 435.27 L77.11 434.64 L79.14 434.01 L81.18 433.39 L83.21 432.78 L85.25 432.18 L87.29 431.58 L89.33 431 L91.37 430.42 L93.41 429.84 L95.46 429.28 L97.5 428.72 L99.55 428.17 L101.61 427.62 L103.66 427.08 L105.71 426.55 L107.77 426.03 L109.83 425.51 L111.88 425 L113.95 424.49 L116.01 423.99 L118.07 423.5 L120.14 423.01 L122.2 422.52 L124.27 422.05 L126.34 421.58 L128.41 421.11 L130.48 420.65 L132.55 420.19 L134.63 419.74 L136.7 419.29 L138.78 418.85 L140.86 418.41 L142.94 417.98 L145.02 417.55 L147.1 417.13 L149.18 416.71 L151.26 416.29 L153.35 415.88 L155.43 415.47 L157.52 415.07 L159.6 414.67 L161.69 414.27 L163.78 413.87 L165.87 413.48 L167.96 413.1 L170.05 412.71 L172.14 412.33 L174.23 411.95 L176.32 411.57 L178.42 411.2 L180.51 410.83 L182.6 410.46 L184.7 410.09 L186.79 409.72 L188.89 409.36 L190.98 409 L193.08 408.64 L195.18 408.28 L197.27 407.92 L199.37 407.57 L201.47 407.21 L203.57 406.86 L205.66 406.51 L207.76 406.16 L209.86 405.81 L211.96 405.46 L214.06 405.11 L216.16 404.76 L218.26 404.41 L220.35 404.07 L222.45 403.72 L224.55 403.38 L226.65 403.03 L228.75 402.69 L230.85 402.34 L232.95 402 L235.05 401.66 L237.15 401.31 L239.25 400.97 L241.35 400.63 L243.45 400.28 L245.54 399.94 L247.64 399.6 L249.74 399.25 L251.84 398.91 L253.94 398.56 L256.04 398.22 L258.13 397.87 L260.23 397.53 L262.33 397.18 L264.43 396.83 L266.52 396.48 L268.62 396.13 L270.72 395.78 L272.81 395.43 L274.91 395.08 L277 394.72 L279.1 394.37 L281.19 394.01 L283.28 393.65 L285.38 393.29 L287.47 392.93 L289.56 392.57 L291.65 392.21 L293.75 391.84 L295.84 391.47 L297.93 391.1 L300.02 390.73 L302.1 390.36 L304.19 389.98 L306.28 389.6 L308.37 389.22 L310.45 388.84 L312.54 388.46 L314.62 388.07 L316.71 387.68 L318.79 387.29 L320.87 386.9" fill="none" stroke="#0000f4" stroke-width="2.8" stroke-linejoin="round" stroke-linecap="round" clip-path="url(#cc)"/>
<path d="M135.26 444.68 L136.68 443.73 L138.11 442.8 L139.55 441.88 L140.99 440.97 L142.43 440.07 L143.88 439.18 L145.34 438.3 L146.8 437.43 L148.26 436.57 L149.73 435.72 L151.21 434.88 L152.69 434.05 L154.17 433.23 L155.66 432.42 L157.15 431.61 L158.64 430.82 L160.14 430.03 L161.65 429.26 L163.15 428.49 L164.66 427.73 L166.18 426.98 L167.7 426.23 L169.22 425.5 L170.75 424.77 L172.28 424.04 L173.81 423.33 L175.35 422.62 L176.89 421.92 L178.43 421.23 L179.98 420.54 L181.53 419.86 L183.08 419.19 L184.63 418.52 L186.19 417.86 L187.75 417.2 L189.31 416.55 L190.88 415.9 L192.45 415.26 L194.02 414.63 L195.59 414 L197.17 413.37 L198.75 412.75 L200.33 412.14 L201.91 411.53 L203.49 410.92 L205.08 410.32 L206.67 409.72 L208.26 409.12 L209.85 408.53 L211.44 407.94 L213.03 407.36 L214.63 406.77 L216.23 406.19 L217.83 405.62 L219.43 405.04 L221.03 404.47 L222.63 403.9 L224.23 403.33 L225.84 402.77 L227.44 402.21 L229.05 401.64 L230.65 401.08 L232.26 400.52 L233.87 399.97 L235.47 399.41 L237.08 398.85 L238.69 398.3 L240.3 397.74 L241.91 397.19 L243.52 396.63 L245.13 396.08 L246.74 395.52 L248.35 394.97 L249.96 394.41 L251.57 393.86 L253.17 393.3 L254.78 392.74 L256.39 392.18 L258 391.62 L259.6 391.06 L261.21 390.5 L262.81 389.93 L264.42 389.37 L266.02 388.8 L267.62 388.23 L269.22 387.65 L270.82 387.08 L272.42 386.5 L274.02 385.91 L275.61 385.33 L277.21 384.74 L278.8 384.15 L280.39 383.56 L281.98 382.96 L283.57 382.35 L285.15 381.75 L286.74 381.14 L288.32 380.52 L289.9 379.9 L291.48 379.28 L293.05 378.65 L294.62 378.02 L296.19 377.38 L297.76 376.73 L299.33 376.08 L300.89 375.43 L302.45 374.77 L304.01 374.1 L305.56 373.43 L307.11 372.75 L308.66 372.06 L310.21 371.37 L311.75 370.67 L313.29 369.97 L314.83 369.25 L316.36 368.53 L317.89 367.81 L319.41 367.07 L320.94 366.33" fill="none" stroke="#00f4f4" stroke-width="3.2" stroke-linejoin="round" stroke-linecap="round" clip-path="url(#cc)"/>
<rect x="59.6" y="264.2" width="259.7" height="179" fill="none" stroke="#909090" stroke-width="1.6"/>
<line x1="56.1" y1="425.3" x2="59.6" y2="425.3" stroke="#555" stroke-width="1"/>
<line x1="56.1" y1="401.42" x2="59.6" y2="401.42" stroke="#555" stroke-width="1"/>
<line x1="56.1" y1="377.54" x2="59.6" y2="377.54" stroke="#555" stroke-width="1"/>
<line x1="56.1" y1="353.66" x2="59.6" y2="353.66" stroke="#555" stroke-width="1"/>
<line x1="56.1" y1="329.78" x2="59.6" y2="329.78" stroke="#555" stroke-width="1"/>
<line x1="56.1" y1="305.9" x2="59.6" y2="305.9" stroke="#555" stroke-width="1"/>
<line x1="56.1" y1="282.02" x2="59.6" y2="282.02" stroke="#555" stroke-width="1"/>
<line x1="57.6" y1="437.24" x2="59.6" y2="437.24" stroke="#555" stroke-width="1"/>
<line x1="57.6" y1="413.36" x2="59.6" y2="413.36" stroke="#555" stroke-width="1"/>
<line x1="57.6" y1="389.48" x2="59.6" y2="389.48" stroke="#555" stroke-width="1"/>
<line x1="57.6" y1="365.6" x2="59.6" y2="365.6" stroke="#555" stroke-width="1"/>
<line x1="57.6" y1="341.72" x2="59.6" y2="341.72" stroke="#555" stroke-width="1"/>
<line x1="57.6" y1="317.84" x2="59.6" y2="317.84" stroke="#555" stroke-width="1"/>
<line x1="57.6" y1="293.96" x2="59.6" y2="293.96" stroke="#555" stroke-width="1"/>
<line x1="57.6" y1="270.08" x2="59.6" y2="270.08" stroke="#555" stroke-width="1"/>
<line x1="81.3" y1="443.2" x2="81.3" y2="446.7" stroke="#555" stroke-width="1"/>
<line x1="189.35" y1="443.2" x2="189.35" y2="446.7" stroke="#555" stroke-width="1"/>
<line x1="297.4" y1="443.2" x2="297.4" y2="446.7" stroke="#555" stroke-width="1"/>
<line x1="135.32" y1="443.2" x2="135.32" y2="445.2" stroke="#555" stroke-width="1"/>
<line x1="243.37" y1="443.2" x2="243.37" y2="445.2" stroke="#555" stroke-width="1"/>
<text x="54" y="428.7" font-size="10.07" font-weight="bold" text-anchor="end" fill="#000" textLength="29.06" lengthAdjust="spacingAndGlyphs">0.0000</text>
<text x="54" y="404.82" font-size="10.07" font-weight="bold" text-anchor="end" fill="#000" textLength="29.06" lengthAdjust="spacingAndGlyphs">0.0002</text>
<text x="54" y="380.94" font-size="10.07" font-weight="bold" text-anchor="end" fill="#000" textLength="29.06" lengthAdjust="spacingAndGlyphs">0.0004</text>
<text x="54" y="357.06" font-size="10.07" font-weight="bold" text-anchor="end" fill="#000" textLength="29.06" lengthAdjust="spacingAndGlyphs">0.0006</text>
<text x="54" y="333.18" font-size="10.07" font-weight="bold" text-anchor="end" fill="#000" textLength="29.06" lengthAdjust="spacingAndGlyphs">0.0008</text>
<text x="54" y="309.3" font-size="10.07" font-weight="bold" text-anchor="end" fill="#000" textLength="29.06" lengthAdjust="spacingAndGlyphs">0.0010</text>
<text x="54" y="285.42" font-size="10.07" font-weight="bold" text-anchor="end" fill="#000" textLength="29.06" lengthAdjust="spacingAndGlyphs">0.0012</text>
<text x="81.3" y="456.5" font-size="10.07" font-weight="bold" text-anchor="middle" fill="#000" textLength="16.37" lengthAdjust="spacingAndGlyphs">-1.0</text>
<text x="189.35" y="456.5" font-size="10.07" font-weight="bold" text-anchor="middle" fill="#000" textLength="16.37" lengthAdjust="spacingAndGlyphs">-0.5</text>
<text x="297.4" y="456.5" font-size="10.07" font-weight="bold" text-anchor="middle" fill="#000" textLength="13.21" lengthAdjust="spacingAndGlyphs">0.0</text>
<text x="189.5" y="474.9" font-size="12" font-weight="bold" text-anchor="middle" fill="#000">Potential (V)</text>
<text x="10.7" y="350" font-size="11.8" font-weight="bold" text-anchor="middle" fill="#000" transform="rotate(-90 10.7 350)">Current (&#956;A)</text>
<text x="-0.5" y="253.6" font-size="11.8" font-weight="bold" text-anchor="start" fill="#000">(c)</text>
<line x1="69.6" y1="274.9" x2="92.8" y2="274.9" stroke="#444" stroke-width="1.2"/>
<circle cx="81.2" cy="274.9" r="1.3" fill="#444" stroke="#444" stroke-width="0.8"/>
<text x="96.3" y="278.5" font-size="11.02" font-weight="bold" text-anchor="start" fill="#000" textLength="62.16" lengthAdjust="spacingAndGlyphs">SANDY SOIL</text>
<line x1="69.6" y1="287.7" x2="92.8" y2="287.7" stroke="#ff0a0a" stroke-width="1.2"/>
<circle cx="81.2" cy="287.7" r="1.3" fill="#ff0a0a" stroke="#ff0a0a" stroke-width="0.8"/>
<text x="96.3" y="291.3" font-size="11.02" font-weight="bold" text-anchor="start" fill="#000" textLength="62.33" lengthAdjust="spacingAndGlyphs">BLACK SOIL</text>
<line x1="69.6" y1="300.8" x2="92.8" y2="300.8" stroke="#00f800" stroke-width="1.2"/>
<circle cx="81.2" cy="300.8" r="1.3" fill="#00f800" stroke="#00f800" stroke-width="0.8"/>
<text x="96.3" y="304.4" font-size="11.02" font-weight="bold" text-anchor="start" fill="#000" textLength="57.24" lengthAdjust="spacingAndGlyphs">COMPOST I</text>
<line x1="69.6" y1="314.3" x2="92.8" y2="314.3" stroke="#0000f4" stroke-width="1.2"/>
<circle cx="81.2" cy="314.3" r="1.3" fill="#0000f4" stroke="#0000f4" stroke-width="0.8"/>
<text x="96.3" y="317.9" font-size="11.02" font-weight="bold" text-anchor="start" fill="#000" textLength="60.07" lengthAdjust="spacingAndGlyphs">COMPOST II</text>
<line x1="69.6" y1="327.1" x2="92.8" y2="327.1" stroke="#00f4f4" stroke-width="1.2"/>
<circle cx="81.2" cy="327.1" r="1.3" fill="#00f4f4" stroke="#00f4f4" stroke-width="0.8"/>
<text x="96.3" y="330.7" font-size="11.02" font-weight="bold" text-anchor="start" fill="#000" textLength="57.05" lengthAdjust="spacingAndGlyphs">COCOPEAT</text>
<clipPath id="cd"><rect x="425.3" y="263.8" width="259.2" height="177.5"/></clipPath>
<rect x="425.3" y="263.8" width="259.2" height="177.5" fill="#ffff80"/>
<line x1="425.3" y1="405.5" x2="684.5" y2="405.5" stroke="#444" stroke-width="1"/>
<line x1="641.5" y1="263.8" x2="641.5" y2="441.3" stroke="#444" stroke-width="1"/>
<path d="M423.95 442.27 L425.37 441.14 L426.8 440.01 L428.24 438.9 L429.68 437.8 L431.13 436.71 L432.59 435.64 L434.06 434.58 L435.53 433.53 L437.01 432.49 L438.49 431.46 L439.98 430.44 L441.48 429.43 L442.99 428.44 L444.5 427.45 L446.01 426.48 L447.54 425.51 L449.07 424.56 L450.6 423.61 L452.14 422.67 L453.68 421.75 L455.23 420.83 L456.79 419.92 L458.35 419.02 L459.91 418.13 L461.48 417.24 L463.06 416.37 L464.64 415.5 L466.22 414.64 L467.81 413.78 L469.4 412.94 L470.99 412.1 L472.59 411.26 L474.19 410.44 L475.8 409.61 L477.41 408.8 L479.02 407.99 L480.64 407.19 L482.26 406.39 L483.88 405.6 L485.5 404.81 L487.13 404.03 L488.76 403.25 L490.39 402.48 L492.02 401.71 L493.66 400.94 L495.29 400.18 L496.93 399.42 L498.58 398.66 L500.22 397.91 L501.86 397.16 L503.51 396.41 L505.16 395.67 L506.81 394.92 L508.46 394.18 L510.11 393.44 L511.76 392.7 L513.41 391.96 L515.06 391.22 L516.72 390.49 L518.37 389.75 L520.03 389.01 L521.68 388.27 L523.34 387.54 L524.99 386.8 L526.65 386.06 L528.3 385.32 L529.96 384.57 L531.61 383.83 L533.27 383.08 L534.92 382.33 L536.57 381.58 L538.22 380.83 L539.87 380.07 L541.52 379.31 L543.17 378.55 L544.82 377.79 L546.47 377.01 L548.11 376.24 L549.75 375.46 L551.39 374.67 L553.02 373.88 L554.65 373.08 L556.28 372.27 L557.89 371.45 L559.5 370.62 L561.1 369.78 L562.7 368.93 L564.28 368.06 L565.85 367.18 L567.41 366.28 L568.96 365.37 L570.5 364.45 L572.02 363.5 L573.53 362.54 L575.03 361.55 L576.51 360.55 L577.97 359.53 L579.41 358.48 L580.84 357.41 L582.25 356.33 L583.64 355.22 L585.02 354.09 L586.38 352.95 L587.73 351.78 L589.07 350.6 L590.38 349.4 L591.69 348.18 L592.98 346.95 L594.25 345.7 L595.52 344.43 L596.77 343.15 L598.01 341.85 L599.23 340.54 L600.45 339.22 L601.65 337.88 L602.84 336.54 L604.02 335.18 L605.2 333.8 L606.36 332.42 L607.51 331.03 L608.65 329.62 L609.78 328.21 L610.91 326.79 L612.02 325.36 L613.13 323.92 L614.23 322.48 L615.33 321.03 L616.41 319.57 L617.49 318.1 L618.57 316.63 L619.63 315.16 L620.7 313.68 L621.75 312.2 L622.81 310.71 L623.86 309.22 L624.9 307.73 L625.94 306.24 L626.98 304.75 L628.01 303.25 L629.04 301.76 L630.07 300.26 L631.1 298.77 L632.12 297.27 L633.14 295.78 L634.16 294.28 L635.18 292.79 L636.2 291.29 L637.22 289.8 L638.23 288.3 L639.25 286.81 L640.26 285.32 L641.28 283.83 L642.29 282.34 L643.31 280.85 L644.32 279.36 L645.34 277.87 L646.36 276.39 L647.38 274.9 L648.4 273.42 L649.42 271.94 L650.44 270.46 L651.47 268.98 L652.49 267.51 L653.52 266.04 L654.56 264.57 L655.59 263.1 L656.63 261.63" fill="none" stroke="#ff0a0a" stroke-width="3.2" stroke-linejoin="round" stroke-linecap="round" clip-path="url(#cd)"/>
<rect x="425.3" y="263.8" width="259.2" height="177.5" fill="none" stroke="#888" stroke-width="1.3"/>
<line x1="421.8" y1="441.1" x2="425.3" y2="441.1" stroke="#444" stroke-width="1"/>
<line x1="421.8" y1="405.5" x2="425.3" y2="405.5" stroke="#444" stroke-width="1"/>
<line x1="421.8" y1="369.9" x2="425.3" y2="369.9" stroke="#444" stroke-width="1"/>
<line x1="421.8" y1="334.3" x2="425.3" y2="334.3" stroke="#444" stroke-width="1"/>
<line x1="421.8" y1="298.7" x2="425.3" y2="298.7" stroke="#444" stroke-width="1"/>
<line x1="421.8" y1="263.1" x2="425.3" y2="263.1" stroke="#444" stroke-width="1"/>
<line x1="423.3" y1="423.3" x2="425.3" y2="423.3" stroke="#444" stroke-width="1"/>
<line x1="423.3" y1="387.7" x2="425.3" y2="387.7" stroke="#444" stroke-width="1"/>
<line x1="423.3" y1="352.1" x2="425.3" y2="352.1" stroke="#444" stroke-width="1"/>
<line x1="423.3" y1="316.5" x2="425.3" y2="316.5" stroke="#444" stroke-width="1"/>
<line x1="423.3" y1="280.9" x2="425.3" y2="280.9" stroke="#444" stroke-width="1"/>
<line x1="469.3" y1="441.3" x2="469.3" y2="444.8" stroke="#444" stroke-width="1"/>
<line x1="555.4" y1="441.3" x2="555.4" y2="444.8" stroke="#444" stroke-width="1"/>
<line x1="641.5" y1="441.3" x2="641.5" y2="444.8" stroke="#444" stroke-width="1"/>
<line x1="426.25" y1="441.3" x2="426.25" y2="443.3" stroke="#444" stroke-width="1"/>
<line x1="512.35" y1="441.3" x2="512.35" y2="443.3" stroke="#444" stroke-width="1"/>
<line x1="598.45" y1="441.3" x2="598.45" y2="443.3" stroke="#444" stroke-width="1"/>
<line x1="684.55" y1="441.3" x2="684.55" y2="443.3" stroke="#444" stroke-width="1"/>
<text x="420" y="444.5" font-size="10.07" font-weight="bold" text-anchor="end" fill="#000" textLength="37.5" lengthAdjust="spacingAndGlyphs">-0.00001</text>
<text x="420" y="408.9" font-size="10.07" font-weight="bold" text-anchor="end" fill="#000" textLength="34.34" lengthAdjust="spacingAndGlyphs">0.00000</text>
<text x="420" y="373.3" font-size="10.07" font-weight="bold" text-anchor="end" fill="#000" textLength="34.34" lengthAdjust="spacingAndGlyphs">0.00001</text>
<text x="420" y="337.7" font-size="10.07" font-weight="bold" text-anchor="end" fill="#000" textLength="34.34" lengthAdjust="spacingAndGlyphs">0.00002</text>
<text x="420" y="302.1" font-size="10.07" font-weight="bold" text-anchor="end" fill="#000" textLength="34.34" lengthAdjust="spacingAndGlyphs">0.00003</text>
<text x="420" y="266.5" font-size="10.07" font-weight="bold" text-anchor="end" fill="#000" textLength="34.34" lengthAdjust="spacingAndGlyphs">0.00004</text>
<text x="469.3" y="454.2" font-size="10.07" font-weight="bold" text-anchor="middle" fill="#000" textLength="16.37" lengthAdjust="spacingAndGlyphs">-1.0</text>
<text x="555.4" y="454.2" font-size="10.07" font-weight="bold" text-anchor="middle" fill="#000" textLength="16.37" lengthAdjust="spacingAndGlyphs">-0.5</text>
<text x="641.5" y="454.2" font-size="10.07" font-weight="bold" text-anchor="middle" fill="#000" textLength="13.21" lengthAdjust="spacingAndGlyphs">0.0</text>
<text x="555.4" y="473" font-size="11.9" font-weight="bold" text-anchor="middle" fill="#000">Potential (V)</text>
<text x="367.9" y="349.6" font-size="12" font-weight="bold" text-anchor="middle" fill="#000" transform="rotate(-90 367.9 349.6)">Current (&#956;A)</text>
<text x="359" y="254" font-size="11.8" font-weight="bold" text-anchor="start" fill="#000">(d)</text>
<line x1="434.6" y1="276" x2="457.8" y2="276" stroke="#ff0a0a" stroke-width="1.2"/>
<circle cx="446.2" cy="276" r="1.3" fill="#ff0a0a" stroke="#ff0a0a" stroke-width="0.8"/>
<text x="461.3" y="279.6" font-size="11.12" font-weight="bold" text-anchor="start" fill="#000" textLength="62.77" lengthAdjust="spacingAndGlyphs">SANDY SOIL</text>
<clipPath id="ce"><rect x="72.3" y="503.6" width="259.3" height="179.1"/></clipPath>
<line x1="72.3" y1="669.2" x2="331.6" y2="669.2" stroke="#444" stroke-width="1"/>
<line x1="315.5" y1="503.6" x2="315.5" y2="682.7" stroke="#444" stroke-width="1"/>
<path d="M156.67 687.04 L156.71 685.69 L156.7 684.08 L156.7 682.3 L156.78 680.45 L156.97 678.65 L157.36 676.99 L157.97 675.55 L158.82 674.38 L159.92 673.54 L161.24 672.99 L162.7 672.65 L164.24 672.41 L165.79 672.19 L167.34 671.99 L168.9 671.8 L170.45 671.61 L172.01 671.43 L173.57 671.26 L175.12 671.1 L176.68 670.94 L178.24 670.79 L179.8 670.65 L181.36 670.52 L182.93 670.39 L184.49 670.26 L186.05 670.15 L187.61 670.04 L189.18 669.93 L190.74 669.84 L192.31 669.74 L193.88 669.66 L195.44 669.57 L197.01 669.49 L198.58 669.42 L200.15 669.35 L201.71 669.29 L203.28 669.23 L204.85 669.17 L206.42 669.12 L207.99 669.07 L209.56 669.02 L211.14 668.98 L212.71 668.94 L214.28 668.9 L215.85 668.87 L217.42 668.84 L219 668.81 L220.57 668.78 L222.14 668.75 L223.72 668.73 L225.29 668.7 L226.86 668.68 L228.44 668.66 L230.01 668.64 L231.59 668.62 L233.16 668.6 L234.74 668.59 L236.31 668.57 L237.89 668.55 L239.46 668.53 L241.04 668.51 L242.61 668.49 L244.18 668.47 L245.76 668.45 L247.33 668.43 L248.91 668.4 L250.48 668.38 L252.06 668.35 L253.63 668.32 L255.21 668.29 L256.78 668.25 L258.35 668.21 L259.93 668.17 L261.5 668.13 L263.07 668.09 L264.65 668.04 L266.22 667.98 L267.79 667.93 L269.36 667.87 L270.94 667.8 L272.51 667.73 L274.08 667.66 L275.65 667.58 L277.22 667.5 L278.79 667.41 L280.36 667.32 L281.93 667.22 L283.5 667.12 L285.06 667 L286.63 666.88 L288.19 666.75 L289.76 666.61 L291.32 666.46 L292.88 666.29 L294.44 666.11 L296 665.92 L297.55 665.71 L299.1 665.48 L300.65 665.24 L302.2 664.98 L303.74 664.69 L305.28 664.39 L306.82 664.06 L308.36 663.72 L309.89 663.35 L311.41 662.94 L312.9 662.48 L314.32 661.91 L315.64 661.18 L316.85 660.28 L317.94 659.22 L318.93 658.03 L319.84 656.73 L320.68 655.36 L321.46 653.93 L322.2 652.47 L322.91 651 L323.62 649.54 L324.35 648.1 L325.1 646.7 L325.92 645.36 L326.8 644.09 L327.78 642.91 L328.87 641.85 L330.09 640.91 L331.46 640.12 L332.99 639.49" fill="none" stroke="#111" stroke-width="2.8" stroke-linejoin="round" stroke-linecap="round" clip-path="url(#ce)"/>
<path d="M151.5 671.9 L200 670.6 L260 669.8 L333 669.2" fill="none" stroke="#ff0a0a" stroke-width="2.6" stroke-linejoin="round" stroke-linecap="round" clip-path="url(#ce)"/>
<path d="M153.29 687.11 L153.2 685.51 L153.16 683.76 L153.19 681.93 L153.34 680.1 L153.63 678.33 L154.11 676.7 L154.79 675.28 L155.68 674.09 L156.79 673.17 L158.1 672.52 L159.57 672.09 L161.14 671.8 L162.76 671.59 L164.39 671.39 L166.01 671.2 L167.64 671.02 L169.27 670.85 L170.89 670.68 L172.52 670.53 L174.15 670.38 L175.78 670.25 L177.41 670.11 L179.04 669.99 L180.67 669.87 L182.31 669.76 L183.94 669.66 L185.57 669.56 L187.2 669.47 L188.84 669.39 L190.47 669.31 L192.11 669.23 L193.74 669.16 L195.38 669.09 L197.02 669.03 L198.65 668.97 L200.29 668.91 L201.93 668.86 L203.56 668.81 L205.2 668.76 L206.84 668.72 L208.48 668.68 L210.12 668.64 L211.76 668.6 L213.4 668.56 L215.04 668.52 L216.68 668.48 L218.32 668.45 L219.96 668.41 L221.6 668.37 L223.24 668.34 L224.88 668.3 L226.52 668.26 L228.16 668.22 L229.81 668.18 L231.45 668.13 L233.09 668.09 L234.73 668.04 L236.37 667.99 L238.01 667.93 L239.66 667.88 L241.3 667.81 L242.94 667.75 L244.58 667.68 L246.22 667.61 L247.86 667.53 L249.5 667.45 L251.14 667.37 L252.78 667.28 L254.42 667.18 L256.05 667.08 L257.69 666.98 L259.33 666.87 L260.96 666.75 L262.59 666.63 L264.23 666.5 L265.86 666.36 L267.49 666.22 L269.12 666.07 L270.75 665.91 L272.38 665.75 L274.01 665.58 L275.63 665.4 L277.26 665.21 L278.88 665.01 L280.5 664.81 L282.12 664.59 L283.74 664.37 L285.36 664.14 L286.98 663.9 L288.59 663.65 L290.2 663.39 L291.81 663.12 L293.42 662.83 L295.03 662.54 L296.63 662.24 L298.24 661.93 L299.84 661.61 L301.44 661.27 L303.03 660.92 L304.63 660.57 L306.22 660.19 L307.81 659.81 L309.4 659.42 L310.99 659.01 L312.57 658.59 L314.14 658.14 L315.71 657.67 L317.27 657.17 L318.81 656.64 L320.33 656.07 L321.84 655.45 L323.33 654.79 L324.79 654.07 L326.23 653.3 L327.64 652.46 L329.03 651.56 L330.38 650.59 L331.69 649.54 L332.97 648.41" fill="none" stroke="#0000f4" stroke-width="2.8" stroke-linejoin="round" stroke-linecap="round" clip-path="url(#ce)"/>
<path d="M69.82 683.39 L72.22 682.37 L74.62 681.42 L77.04 680.53 L79.47 679.69 L81.92 678.91 L84.37 678.18 L86.84 677.5 L89.31 676.86 L91.8 676.27 L94.3 675.73 L96.8 675.22 L99.32 674.75 L101.84 674.32 L104.36 673.92 L106.9 673.55 L109.44 673.2 L111.98 672.89 L114.53 672.59 L117.08 672.32 L119.64 672.07 L122.2 671.83 L124.76 671.6 L127.32 671.39 L129.88 671.18 L132.44 670.99 L135.01 670.8 L137.57 670.62 L140.14 670.45 L142.7 670.28 L145.27 670.13 L147.83 669.98 L150.4 669.83 L152.97 669.7 L155.54 669.57 L158.11 669.44 L160.68 669.33 L163.25 669.21 L165.82 669.11 L168.39 669.01 L170.96 668.92 L173.53 668.83 L176.1 668.74 L178.67 668.67 L181.24 668.59 L183.82 668.52 L186.39 668.46 L188.96 668.4 L191.54 668.34 L194.11 668.29 L196.68 668.24 L199.26 668.2 L201.83 668.16 L204.41 668.12 L206.98 668.08 L209.55 668.05 L212.13 668.02 L214.7 667.99 L217.28 667.97 L219.85 667.95 L222.43 667.92 L225 667.91 L227.58 667.89 L230.16 667.87 L232.73 667.86 L235.31 667.84 L237.88 667.83 L240.46 667.81 L243.03 667.8 L245.6 667.79 L248.18 667.78 L250.75 667.77 L253.33 667.75 L255.9 667.74 L258.48 667.73 L261.05 667.71 L263.62 667.7 L266.2 667.68 L268.77 667.66 L271.34 667.64 L273.92 667.62 L276.49 667.6 L279.06 667.57 L281.63 667.54 L284.2 667.51 L286.77 667.48 L289.34 667.45 L291.91 667.41 L294.48 667.36 L297.05 667.32 L299.62 667.27 L302.19 667.22 L304.75 667.16 L307.32 667.1 L309.89 667.04 L312.45 666.97 L315.02 666.89 L317.58 666.81 L320.15 666.73 L322.71 666.64 L325.27 666.55 L327.84 666.45 L330.4 666.34 L332.96 666.23" fill="none" stroke="#ff00ff" stroke-width="3.2" stroke-linejoin="round" stroke-linecap="round" clip-path="url(#ce)"/>
<path d="M157.5 686C157.6 685.47 157.68 683.6 158.1 682.8C158.52 682 159.27 681.73 160 681.2C160.73 680.67 161.2 680.35 162.5 679.6C163.8 678.85 165.62 677.62 167.8 676.7C169.98 675.78 172.83 674.78 175.6 674.1C178.37 673.42 181.47 673 184.4 672.6C187.33 672.2 189.77 672.03 193.2 671.7C196.63 671.37 199.85 671.02 205 670.6C210.15 670.18 217.7 669.57 224.1 669.2C230.5 668.83 238.25 668.73 243.4 668.4C248.55 668.07 251.85 667.72 255 667.2C258.15 666.68 260.27 665.95 262.3 665.3C264.33 664.65 264.92 665.98 267.2 663.3C269.48 660.62 273.07 654.45 276 649.2C278.93 643.95 282.42 636.25 284.8 631.8C287.18 627.35 288.65 626.2 290.3 622.5C291.95 618.8 293.6 613.55 294.7 609.6C295.8 605.65 296.17 601.97 296.9 598.8C297.63 595.63 298.37 593.4 299.1 590.6C299.83 587.8 300.65 585.05 301.3 582C301.95 578.95 302.27 575.97 303 572.3C303.73 568.63 305 563.3 305.7 560C306.4 556.7 306.63 554.95 307.2 552.5C307.77 550.05 308.28 547.52 309.1 545.3C309.92 543.08 311.28 540.78 312.1 539.2C312.92 537.62 313.38 537.23 314 535.8C314.62 534.37 315.18 532.28 315.8 530.6C316.42 528.92 317.08 527.2 317.7 525.7C318.32 524.2 318.87 522.48 319.5 521.6C320.13 520.72 320.85 520.47 321.5 520.4C322.15 520.33 323.05 520.67 323.4 521.2C323.75 521.73 323.7 523.08 323.6 523.6C323.5 524.12 322.95 524.65 322.8 524.3C322.65 523.95 322.6 522.75 322.7 521.5C322.8 520.25 323.23 518.13 323.4 516.8C323.57 515.47 323.52 514.67 323.7 513.5C323.88 512.33 324.17 510.83 324.5 509.8C324.83 508.77 325.2 508.22 325.7 507.3C326.2 506.38 326.9 505.35 327.5 504.3C328.1 503.25 329 501.55 329.3 501" fill="none" stroke="#0b6e0b" stroke-width="2.6" stroke-linejoin="round" stroke-linecap="round" clip-path="url(#ce)"/>
<path d="M157.5 686C157.6 685.47 157.68 683.6 158.1 682.8C158.52 682 159.27 681.73 160 681.2C160.73 680.67 161.2 680.35 162.5 679.6C163.8 678.85 165.62 677.62 167.8 676.7C169.98 675.78 172.83 674.78 175.6 674.1C178.37 673.42 181.47 673 184.4 672.6C187.33 672.2 189.77 672.03 193.2 671.7C196.63 671.37 199.85 671.02 205 670.6C210.15 670.18 217.7 669.57 224.1 669.2C230.5 668.83 238.25 668.73 243.4 668.4C248.55 668.07 251.85 667.72 255 667.2C258.15 666.68 260.27 665.95 262.3 665.3C264.33 664.65 264.92 665.98 267.2 663.3C269.48 660.62 273.07 654.45 276 649.2C278.93 643.95 282.42 636.25 284.8 631.8C287.18 627.35 288.65 626.2 290.3 622.5C291.95 618.8 293.6 613.55 294.7 609.6C295.8 605.65 296.17 601.97 296.9 598.8C297.63 595.63 298.37 593.4 299.1 590.6C299.83 587.8 300.65 585.05 301.3 582C301.95 578.95 302.27 575.97 303 572.3C303.73 568.63 305 563.3 305.7 560C306.4 556.7 306.63 554.95 307.2 552.5C307.77 550.05 308.28 547.52 309.1 545.3C309.92 543.08 311.28 540.78 312.1 539.2C312.92 537.62 313.38 537.23 314 535.8C314.62 534.37 315.18 532.28 315.8 530.6C316.42 528.92 317.08 527.2 317.7 525.7C318.32 524.2 318.87 522.48 319.5 521.6C320.13 520.72 320.85 520.47 321.5 520.4C322.15 520.33 323.05 520.67 323.4 521.2C323.75 521.73 323.7 523.08 323.6 523.6C323.5 524.12 322.95 524.65 322.8 524.3C322.65 523.95 322.6 522.75 322.7 521.5C322.8 520.25 323.23 518.13 323.4 516.8C323.57 515.47 323.52 514.67 323.7 513.5C323.88 512.33 324.17 510.83 324.5 509.8C324.83 508.77 325.2 508.22 325.7 507.3C326.2 506.38 326.9 505.35 327.5 504.3C328.1 503.25 329 501.55 329.3 501" fill="none" stroke="#6fb06f" stroke-width="0.8" stroke-linejoin="round" stroke-linecap="round" clip-path="url(#ce)" stroke-dasharray="1.5 1.5"/>
<rect x="72.3" y="503.6" width="259.3" height="179.1" fill="none" stroke="#777" stroke-width="1.4"/>
<line x1="68.8" y1="669.2" x2="72.3" y2="669.2" stroke="#444" stroke-width="1"/>
<line x1="68.8" y1="634.75" x2="72.3" y2="634.75" stroke="#444" stroke-width="1"/>
<line x1="68.8" y1="600.3" x2="72.3" y2="600.3" stroke="#444" stroke-width="1"/>
<line x1="68.8" y1="565.85" x2="72.3" y2="565.85" stroke="#444" stroke-width="1"/>
<line x1="68.8" y1="531.4" x2="72.3" y2="531.4" stroke="#444" stroke-width="1"/>
<line x1="70.3" y1="651.98" x2="72.3" y2="651.98" stroke="#444" stroke-width="1"/>
<line x1="70.3" y1="617.53" x2="72.3" y2="617.53" stroke="#444" stroke-width="1"/>
<line x1="70.3" y1="583.08" x2="72.3" y2="583.08" stroke="#444" stroke-width="1"/>
<line x1="70.3" y1="548.62" x2="72.3" y2="548.62" stroke="#444" stroke-width="1"/>
<line x1="70.3" y1="514.18" x2="72.3" y2="514.18" stroke="#444" stroke-width="1"/>
<line x1="72.31" y1="682.7" x2="72.31" y2="686.2" stroke="#444" stroke-width="1"/>
<line x1="153.37" y1="682.7" x2="153.37" y2="686.2" stroke="#444" stroke-width="1"/>
<line x1="234.44" y1="682.7" x2="234.44" y2="686.2" stroke="#444" stroke-width="1"/>
<line x1="315.5" y1="682.7" x2="315.5" y2="686.2" stroke="#444" stroke-width="1"/>
<line x1="112.84" y1="682.7" x2="112.84" y2="684.7" stroke="#444" stroke-width="1"/>
<line x1="193.9" y1="682.7" x2="193.9" y2="684.7" stroke="#444" stroke-width="1"/>
<line x1="274.97" y1="682.7" x2="274.97" y2="684.7" stroke="#444" stroke-width="1"/>
<text x="65.7" y="672.9" font-size="10.5" font-weight="bold" text-anchor="end" fill="#000">0.00000</text>
<text x="65.7" y="638.45" font-size="10.5" font-weight="bold" text-anchor="end" fill="#000">0.00005</text>
<text x="65.7" y="604" font-size="10.5" font-weight="bold" text-anchor="end" fill="#000">0.00010</text>
<text x="65.7" y="569.55" font-size="10.5" font-weight="bold" text-anchor="end" fill="#000">0.00015</text>
<text x="65.7" y="535.1" font-size="10.5" font-weight="bold" text-anchor="end" fill="#000">0.00020</text>
<text x="72.31" y="697.2" font-size="10.5" font-weight="bold" text-anchor="middle" fill="#000">-1.5</text>
<text x="153.37" y="697.2" font-size="10.5" font-weight="bold" text-anchor="middle" fill="#000">-1.0</text>
<text x="234.44" y="697.2" font-size="10.5" font-weight="bold" text-anchor="middle" fill="#000">-0.5</text>
<text x="315.5" y="697.2" font-size="10.5" font-weight="bold" text-anchor="middle" fill="#000">0.0</text>
<text x="201.8" y="717.2" font-size="13.5" font-weight="bold" text-anchor="middle" fill="#000">Potential (V)</text>
<text x="12.2" y="589.3" font-size="13.4" font-weight="bold" text-anchor="middle" fill="#000" transform="rotate(-90 12.2 589.3)">Current (&#956;A)</text>
<text x="6" y="498.3" font-size="13.6" font-weight="bold" text-anchor="start" fill="#000">(e)</text>
<line x1="80.8" y1="514.4" x2="106.7" y2="514.4" stroke="#111" stroke-width="1.2"/>
<circle cx="93.75" cy="514.4" r="1.5" fill="#111" stroke="#111" stroke-width="0.8"/>
<text x="110.9" y="518.5" font-size="11.5" font-weight="bold" text-anchor="start" fill="#000">SANDY SOIL</text>
<line x1="80.8" y1="529.1" x2="106.7" y2="529.1" stroke="#ff0a0a" stroke-width="1.2"/>
<circle cx="93.75" cy="529.1" r="1.5" fill="#ff0a0a" stroke="#ff0a0a" stroke-width="0.8"/>
<text x="110.9" y="533.2" font-size="11.5" font-weight="bold" text-anchor="start" fill="#000">BLACK SOIL</text>
<line x1="80.8" y1="543.6" x2="106.7" y2="543.6" stroke="#0000f4" stroke-width="1.2"/>
<circle cx="93.75" cy="543.6" r="1.5" fill="#0000f4" stroke="#0000f4" stroke-width="0.8"/>
<text x="110.9" y="547.7" font-size="11.5" font-weight="bold" text-anchor="start" fill="#000">COMPOST I</text>
<line x1="80.8" y1="558.2" x2="106.7" y2="558.2" stroke="#ff00ff" stroke-width="1.2"/>
<circle cx="93.75" cy="558.2" r="1.5" fill="#ff00ff" stroke="#ff00ff" stroke-width="0.8"/>
<text x="110.9" y="562.3" font-size="11.5" font-weight="bold" text-anchor="start" fill="#000">COMPOST II</text>
<line x1="80.8" y1="572.7" x2="106.7" y2="572.7" stroke="#0b6e0b" stroke-width="1.2"/>
<circle cx="93.75" cy="572.7" r="1.5" fill="#0b6e0b" stroke="#0b6e0b" stroke-width="0.8"/>
<text x="110.9" y="576.8" font-size="11.5" font-weight="bold" text-anchor="start" fill="#000">COCOPEAT</text>
<clipPath id="cf"><rect x="433.9" y="503.6" width="250.6" height="179.4"/></clipPath>
<rect x="433.9" y="503.6" width="250.6" height="179.4" fill="#ffff80"/>
<line x1="433.9" y1="673.3" x2="684.5" y2="673.3" stroke="#444" stroke-width="1"/>
<line x1="661.8" y1="503.6" x2="661.8" y2="683" stroke="#777" stroke-width="1.6"/>
<path d="M471.8 684.8 L472.65 683.96 L473.55 683.16 L474.49 682.39 L475.47 681.64 L476.47 680.92 L477.5 680.23 L478.54 679.55 L479.6 678.88 L480.67 678.22 L481.74 677.58 L482.83 676.94 L483.92 676.32 L485.02 675.71 L486.13 675.12 L487.25 674.54 L488.37 673.97 L489.5 673.42 L490.64 672.88 L491.79 672.36 L492.94 671.85 L494.1 671.37 L495.27 670.89 L496.44 670.44 L497.62 670 L498.8 669.59 L499.99 669.19 L501.19 668.81 L502.39 668.45 L503.59 668.1 L504.8 667.77 L506.02 667.46 L507.23 667.15 L508.45 666.86 L509.68 666.59 L510.9 666.31 L512.13 666.05 L513.36 665.8 L514.6 665.55 L515.83 665.3 L517.06 665.06 L518.3 664.81 L519.53 664.57 L520.77 664.33 L522 664.08 L523.23 663.83 L524.46 663.58 L525.69 663.32 L526.92 663.05 L528.15 662.77 L529.37 662.49 L530.59 662.19 L531.8 661.88 L533.01 661.56 L534.22 661.23 L535.43 660.89 L536.64 660.54 L537.84 660.18 L539.04 659.82 L540.24 659.45 L541.43 659.07 L542.63 658.68 L543.82 658.29 L545.01 657.9 L546.2 657.5 L547.4 657.11 L548.59 656.7 L549.78 656.3 L550.97 655.9 L552.15 655.49 L553.34 655.09 L554.53 654.69 L555.73 654.29 L556.92 653.89 L558.11 653.5 L559.3 653.11 L560.5 652.72 L561.7 652.34 L562.89 651.97 L564.09 651.6 L565.29 651.23 L566.5 650.87 L567.7 650.51 L568.9 650.15 L570.11 649.8 L571.31 649.44 L572.52 649.1 L573.73 648.75 L574.93 648.4 L576.14 648.06 L577.35 647.72 L578.56 647.38 L579.77 647.04 L580.98 646.7 L582.19 646.36 L583.4 646.02 L584.61 645.67 L585.81 645.33 L587.02 644.99 L588.23 644.65 L589.44 644.3 L590.65 643.95 L591.85 643.6 L593.06 643.25 L594.27 642.89 L595.47 642.54 L596.67 642.18 L597.88 641.81 L599.08 641.44 L600.28 641.07 L601.48 640.69 L602.68 640.31 L603.87 639.92 L605.07 639.53 L606.26 639.13 L607.45 638.72 L608.64 638.31 L609.83 637.9 L611.02 637.47 L612.2 637.04 L613.38 636.6 L614.56 636.14 L615.72 635.68 L616.88 635.2 L618.03 634.7 L619.17 634.19 L620.3 633.66 L621.41 633.11 L622.51 632.53 L623.59 631.94 L624.65 631.31 L625.7 630.66 L626.72 629.99 L627.73 629.28 L628.71 628.54 L629.67 627.77 L630.6 626.96 L631.51 626.12 L632.38 625.24 L633.23 624.33 L634.05 623.37 L634.84 622.38 L635.62 621.36 L636.38 620.34 L637.15 619.3 L637.92 618.28 L638.7 617.27 L639.51 616.29 L640.34 615.35 L641.21 614.45 L642.1 613.58 L643.02 612.74 L643.96 611.93 L644.92 611.13 L645.89 610.35 L646.88 609.57 L647.86 608.79 L648.85 608 L649.84 607.2 L650.82 606.38 L651.78 605.54 L652.73 604.67 L653.66 603.79 L654.56 602.88 L655.42 601.94 L656.24 600.99 L657.01 600 L657.73 598.99 L658.39 597.95 L658.99 596.89 L659.52 595.79 L659.97 594.67 L660.35 593.52 L660.64 592.34 L660.88 591.14 L661.06 589.92 L661.19 588.68 L661.28 587.43 L661.34 586.16 L661.39 584.89 L661.42 583.61 L661.45 582.34 L661.48 581.06 L661.53 579.79 L661.59 578.52 L661.67 577.26 L661.75 576 L661.84 574.75 L661.94 573.5 L662.04 572.24 L662.15 570.99 L662.25 569.74 L662.35 568.49 L662.45 567.24 L662.55 565.99 L662.65 564.74 L662.75 563.49 L662.85 562.24 L662.95 560.98 L663.04 559.73 L663.14 558.48 L663.24 557.23 L663.33 555.97 L663.43 554.72 L663.53 553.47 L663.62 552.22 L663.72 550.96 L663.82 549.71 L663.92 548.46 L664.03 547.21 L664.13 545.96 L664.23 544.7 L664.34 543.45 L664.45 542.2 L664.56 540.95 L664.67 539.7 L664.79 538.45 L664.91 537.2 L665.03 535.95 L665.15 534.7 L665.28 533.45 L665.41 532.2 L665.54 530.96 L665.68 529.71 L665.82 528.46 L665.96 527.22 L666.11 525.97 L666.26 524.72 L666.42 523.48 L666.58 522.24 L666.75 520.99 L666.92 519.75 L667.09 518.51 L667.27 517.27 L667.46 516.03 L667.65 514.79 L667.85 513.55 L668.05 512.31 L668.26 511.07 L668.48 509.84 L668.7 508.6 L668.93 507.37 L669.17 506.14 L669.41 504.91 L669.66 503.67 L669.92 502.44 L670.18 501.22 L670.45 499.99" fill="none" stroke="#111" stroke-width="2.4" stroke-linejoin="round" stroke-linecap="round" clip-path="url(#cf)"/>
<path d="M471.8 684.8 L472.65 683.96 L473.55 683.16 L474.49 682.39 L475.47 681.64 L476.47 680.92 L477.5 680.23 L478.54 679.55 L479.6 678.88 L480.67 678.22 L481.74 677.58 L482.83 676.94 L483.92 676.32 L485.02 675.71 L486.13 675.12 L487.25 674.54 L488.37 673.97 L489.5 673.42 L490.64 672.88 L491.79 672.36 L492.94 671.85 L494.1 671.37 L495.27 670.89 L496.44 670.44 L497.62 670 L498.8 669.59 L499.99 669.19 L501.19 668.81 L502.39 668.45 L503.59 668.1 L504.8 667.77 L506.02 667.46 L507.23 667.15 L508.45 666.86 L509.68 666.59 L510.9 666.31 L512.13 666.05 L513.36 665.8 L514.6 665.55 L515.83 665.3 L517.06 665.06 L518.3 664.81 L519.53 664.57 L520.77 664.33 L522 664.08 L523.23 663.83 L524.46 663.58 L525.69 663.32 L526.92 663.05 L528.15 662.77 L529.37 662.49 L530.59 662.19 L531.8 661.88 L533.01 661.56 L534.22 661.23 L535.43 660.89 L536.64 660.54 L537.84 660.18 L539.04 659.82 L540.24 659.45 L541.43 659.07 L542.63 658.68 L543.82 658.29 L545.01 657.9 L546.2 657.5 L547.4 657.11 L548.59 656.7 L549.78 656.3 L550.97 655.9 L552.15 655.49 L553.34 655.09 L554.53 654.69 L555.73 654.29 L556.92 653.89 L558.11 653.5 L559.3 653.11 L560.5 652.72 L561.7 652.34 L562.89 651.97 L564.09 651.6 L565.29 651.23 L566.5 650.87 L567.7 650.51 L568.9 650.15 L570.11 649.8 L571.31 649.44 L572.52 649.1 L573.73 648.75 L574.93 648.4 L576.14 648.06 L577.35 647.72 L578.56 647.38 L579.77 647.04 L580.98 646.7 L582.19 646.36 L583.4 646.02 L584.61 645.67 L585.81 645.33 L587.02 644.99 L588.23 644.65 L589.44 644.3 L590.65 643.95 L591.85 643.6 L593.06 643.25 L594.27 642.89 L595.47 642.54 L596.67 642.18 L597.88 641.81 L599.08 641.44 L600.28 641.07 L601.48 640.69 L602.68 640.31 L603.87 639.92 L605.07 639.53 L606.26 639.13 L607.45 638.72 L608.64 638.31 L609.83 637.9 L611.02 637.47 L612.2 637.04 L613.38 636.6 L614.56 636.14 L615.72 635.68 L616.88 635.2 L618.03 634.7 L619.17 634.19 L620.3 633.66 L621.41 633.11 L622.51 632.53 L623.59 631.94 L624.65 631.31 L625.7 630.66 L626.72 629.99 L627.73 629.28 L628.71 628.54 L629.67 627.77 L630.6 626.96 L631.51 626.12 L632.38 625.24 L633.23 624.33 L634.05 623.37 L634.84 622.38 L635.62 621.36 L636.38 620.34 L637.15 619.3 L637.92 618.28 L638.7 617.27 L639.51 616.29 L640.34 615.35 L641.21 614.45 L642.1 613.58 L643.02 612.74 L643.96 611.93 L644.92 611.13 L645.89 610.35 L646.88 609.57 L647.86 608.79 L648.85 608 L649.84 607.2 L650.82 606.38 L651.78 605.54 L652.73 604.67 L653.66 603.79 L654.56 602.88 L655.42 601.94 L656.24 600.99 L657.01 600 L657.73 598.99 L658.39 597.95 L658.99 596.89 L659.52 595.79 L659.97 594.67 L660.35 593.52 L660.64 592.34 L660.88 591.14 L661.06 589.92 L661.19 588.68 L661.28 587.43 L661.34 586.16 L661.39 584.89 L661.42 583.61 L661.45 582.34 L661.48 581.06 L661.53 579.79 L661.59 578.52 L661.67 577.26 L661.75 576 L661.84 574.75 L661.94 573.5 L662.04 572.24 L662.15 570.99 L662.25 569.74 L662.35 568.49 L662.45 567.24 L662.55 565.99 L662.65 564.74 L662.75 563.49 L662.85 562.24 L662.95 560.98 L663.04 559.73 L663.14 558.48 L663.24 557.23 L663.33 555.97 L663.43 554.72 L663.53 553.47 L663.62 552.22 L663.72 550.96 L663.82 549.71 L663.92 548.46 L664.03 547.21 L664.13 545.96 L664.23 544.7 L664.34 543.45 L664.45 542.2 L664.56 540.95 L664.67 539.7 L664.79 538.45 L664.91 537.2 L665.03 535.95 L665.15 534.7 L665.28 533.45 L665.41 532.2 L665.54 530.96 L665.68 529.71 L665.82 528.46 L665.96 527.22 L666.11 525.97 L666.26 524.72 L666.42 523.48 L666.58 522.24 L666.75 520.99 L666.92 519.75 L667.09 518.51 L667.27 517.27 L667.46 516.03 L667.65 514.79 L667.85 513.55 L668.05 512.31 L668.26 511.07 L668.48 509.84 L668.7 508.6 L668.93 507.37 L669.17 506.14 L669.41 504.91 L669.66 503.67 L669.92 502.44 L670.18 501.22 L670.45 499.99" fill="none" stroke="#999" stroke-width="0.8" stroke-linejoin="round" stroke-linecap="round" clip-path="url(#cf)" stroke-dasharray="1.5 1.5"/>
<path d="M437.95 683.85 L440.52 683.37 L443.1 682.91 L445.68 682.48 L448.26 682.06 L450.85 681.66 L453.43 681.28 L456.02 680.92 L458.61 680.58 L461.2 680.26 L463.8 679.95 L466.39 679.66 L468.99 679.38 L471.59 679.12 L474.19 678.87 L476.79 678.64 L479.39 678.42 L481.99 678.21 L484.6 678.02 L487.21 677.84 L489.81 677.66 L492.42 677.5 L495.03 677.35 L497.64 677.21 L500.25 677.07 L502.86 676.94 L505.48 676.83 L508.09 676.71 L510.71 676.61 L513.32 676.51 L515.94 676.41 L518.55 676.32 L521.17 676.23 L523.78 676.15 L526.4 676.07 L529.02 675.99 L531.63 675.92 L534.25 675.84 L536.87 675.77 L539.49 675.69 L542.1 675.62 L544.72 675.55 L547.34 675.48 L549.96 675.41 L552.57 675.34 L555.19 675.28 L557.81 675.21 L560.43 675.14 L563.05 675.08 L565.66 675.01 L568.28 674.95 L570.9 674.88 L573.52 674.82 L576.14 674.75 L578.75 674.69 L581.37 674.62 L583.99 674.55 L586.61 674.49 L589.23 674.42 L591.84 674.36 L594.46 674.29 L597.08 674.22 L599.7 674.15 L602.31 674.08 L604.93 674.01 L607.55 673.94 L610.17 673.87 L612.78 673.79 L615.4 673.72 L618.02 673.64 L620.63 673.56 L623.25 673.48 L625.87 673.4 L628.48 673.32 L631.1 673.23 L633.71 673.15 L636.33 673.06 L638.95 672.97 L641.56 672.88 L644.18 672.78 L646.79 672.68 L649.41 672.58 L652.02 672.48 L654.63 672.38 L657.25 672.27 L659.86 672.16 L662.48 672.05 L665.09 671.93 L667.7 671.81 L670.31 671.69 L672.93 671.57 L675.54 671.44 L678.15 671.31 L680.76 671.17 L683.37 671.03 L685.98 670.89" fill="none" stroke="#ff0a0a" stroke-width="3" stroke-linejoin="round" stroke-linecap="round" clip-path="url(#cf)"/>
<path d="M437.95 683.85 L440.52 683.37 L443.1 682.91 L445.68 682.48 L448.26 682.06 L450.85 681.66 L453.43 681.28 L456.02 680.92 L458.61 680.58 L461.2 680.26 L463.8 679.95 L466.39 679.66 L468.99 679.38 L471.59 679.12 L474.19 678.87 L476.79 678.64 L479.39 678.42 L481.99 678.21 L484.6 678.02 L487.21 677.84 L489.81 677.66 L492.42 677.5 L495.03 677.35 L497.64 677.21 L500.25 677.07 L502.86 676.94 L505.48 676.83 L508.09 676.71 L510.71 676.61 L513.32 676.51 L515.94 676.41 L518.55 676.32 L521.17 676.23 L523.78 676.15 L526.4 676.07 L529.02 675.99 L531.63 675.92 L534.25 675.84 L536.87 675.77 L539.49 675.69 L542.1 675.62 L544.72 675.55 L547.34 675.48 L549.96 675.41 L552.57 675.34 L555.19 675.28 L557.81 675.21 L560.43 675.14 L563.05 675.08 L565.66 675.01 L568.28 674.95 L570.9 674.88 L573.52 674.82 L576.14 674.75 L578.75 674.69 L581.37 674.62 L583.99 674.55 L586.61 674.49 L589.23 674.42 L591.84 674.36 L594.46 674.29 L597.08 674.22 L599.7 674.15 L602.31 674.08 L604.93 674.01 L607.55 673.94 L610.17 673.87 L612.78 673.79 L615.4 673.72 L618.02 673.64 L620.63 673.56 L623.25 673.48 L625.87 673.4 L628.48 673.32 L631.1 673.23 L633.71 673.15 L636.33 673.06 L638.95 672.97 L641.56 672.88 L644.18 672.78 L646.79 672.68 L649.41 672.58 L652.02 672.48 L654.63 672.38 L657.25 672.27 L659.86 672.16 L662.48 672.05 L665.09 671.93 L667.7 671.81 L670.31 671.69 L672.93 671.57 L675.54 671.44 L678.15 671.31 L680.76 671.17 L683.37 671.03 L685.98 670.89" fill="none" stroke="#ffaaaa" stroke-width="0.8" stroke-linejoin="round" stroke-linecap="round" clip-path="url(#cf)" stroke-dasharray="1.5 1.5"/>
<path d="M460.01 684.52 L461.28 683.46 L462.56 682.43 L463.85 681.45 L465.16 680.5 L466.48 679.58 L467.81 678.71 L469.16 677.86 L470.52 677.05 L471.89 676.27 L473.27 675.52 L474.66 674.8 L476.07 674.11 L477.48 673.44 L478.91 672.81 L480.35 672.19 L481.79 671.6 L483.25 671.04 L484.71 670.5 L486.19 669.98 L487.67 669.47 L489.16 668.99 L490.66 668.53 L492.16 668.08 L493.68 667.65 L495.19 667.23 L496.72 666.83 L498.25 666.44 L499.79 666.06 L501.33 665.69 L502.88 665.34 L504.43 664.99 L505.99 664.65 L507.55 664.31 L509.12 663.98 L510.69 663.66 L512.26 663.34 L513.83 663.02 L515.41 662.7 L516.99 662.38 L518.57 662.07 L520.15 661.75 L521.74 661.43 L523.33 661.11 L524.91 660.79 L526.5 660.47 L528.09 660.15 L529.68 659.82 L531.26 659.5 L532.85 659.17 L534.44 658.83 L536.03 658.49 L537.61 658.15 L539.2 657.8 L540.78 657.45 L542.36 657.09 L543.94 656.73 L545.52 656.36 L547.1 655.98 L548.67 655.6 L550.24 655.21 L551.81 654.81 L553.37 654.4 L554.93 653.99 L556.49 653.56 L558.04 653.13 L559.59 652.69 L561.13 652.23 L562.67 651.77 L564.21 651.3 L565.74 650.81 L567.26 650.32 L568.78 649.81 L570.29 649.29 L571.79 648.76 L573.29 648.21 L574.78 647.66 L576.27 647.08 L577.75 646.5 L579.22 645.9 L580.68 645.28 L582.14 644.65 L583.59 644 L585.02 643.34 L586.46 642.66 L587.88 641.97 L589.29 641.26 L590.69 640.53 L592.09 639.78 L593.47 639.01 L594.85 638.23 L596.21 637.42 L597.56 636.6 L598.91 635.76 L600.24 634.9 L601.56 634.02 L602.87 633.11 L604.16 632.19 L605.45 631.26 L606.72 630.3 L607.98 629.32 L609.23 628.33 L610.46 627.32 L611.68 626.29 L612.89 625.24 L614.08 624.18 L615.25 623.1 L616.42 622 L617.56 620.89 L618.7 619.76 L619.81 618.61 L620.91 617.45 L622 616.28 L623.06 615.09 L624.12 613.88 L625.15 612.66 L626.17 611.43 L627.16 610.18 L628.15 608.92 L629.11 607.64 L630.05 606.35 L630.98 605.05 L631.88 603.74 L632.77 602.41 L633.64 601.07 L634.48 599.72 L635.31 598.36 L636.12 596.99 L636.91 595.6 L637.68 594.21 L638.44 592.8 L639.18 591.39 L639.9 589.96 L640.6 588.53 L641.29 587.09 L641.96 585.64 L642.62 584.18 L643.26 582.71 L643.89 581.23 L644.51 579.75 L645.11 578.26 L645.7 576.77 L646.27 575.27 L646.84 573.76 L647.39 572.25 L647.93 570.73 L648.46 569.21 L648.98 567.69 L649.49 566.15 L649.98 564.62 L650.47 563.08 L650.95 561.54 L651.43 560 L651.89 558.46 L652.35 556.91 L652.8 555.36 L653.24 553.81 L653.67 552.26 L654.1 550.71 L654.53 549.15 L654.95 547.6 L655.37 546.05 L655.79 544.5 L656.21 542.95 L656.62 541.4 L657.04 539.85 L657.46 538.3 L657.88 536.76 L658.3 535.21 L658.73 533.67 L659.16 532.14 L659.6 530.6 L660.04 529.07 L660.49 527.54 L660.95 526.02 L661.42 524.5 L661.9 522.98 L662.38 521.47 L662.88 519.97 L663.39 518.47 L663.92 516.97 L664.46 515.49 L665.01 514 L665.58 512.53 L666.16 511.06 L666.76 509.6 L667.38 508.14 L668.02 506.69 L668.68 505.26 L669.36 503.82 L670.05 502.4 L670.78 500.99" fill="none" stroke="#0000f4" stroke-width="3.2" stroke-linejoin="round" stroke-linecap="round" clip-path="url(#cf)"/>
<path d="M460.01 684.52 L461.28 683.46 L462.56 682.43 L463.85 681.45 L465.16 680.5 L466.48 679.58 L467.81 678.71 L469.16 677.86 L470.52 677.05 L471.89 676.27 L473.27 675.52 L474.66 674.8 L476.07 674.11 L477.48 673.44 L478.91 672.81 L480.35 672.19 L481.79 671.6 L483.25 671.04 L484.71 670.5 L486.19 669.98 L487.67 669.47 L489.16 668.99 L490.66 668.53 L492.16 668.08 L493.68 667.65 L495.19 667.23 L496.72 666.83 L498.25 666.44 L499.79 666.06 L501.33 665.69 L502.88 665.34 L504.43 664.99 L505.99 664.65 L507.55 664.31 L509.12 663.98 L510.69 663.66 L512.26 663.34 L513.83 663.02 L515.41 662.7 L516.99 662.38 L518.57 662.07 L520.15 661.75 L521.74 661.43 L523.33 661.11 L524.91 660.79 L526.5 660.47 L528.09 660.15 L529.68 659.82 L531.26 659.5 L532.85 659.17 L534.44 658.83 L536.03 658.49 L537.61 658.15 L539.2 657.8 L540.78 657.45 L542.36 657.09 L543.94 656.73 L545.52 656.36 L547.1 655.98 L548.67 655.6 L550.24 655.21 L551.81 654.81 L553.37 654.4 L554.93 653.99 L556.49 653.56 L558.04 653.13 L559.59 652.69 L561.13 652.23 L562.67 651.77 L564.21 651.3 L565.74 650.81 L567.26 650.32 L568.78 649.81 L570.29 649.29 L571.79 648.76 L573.29 648.21 L574.78 647.66 L576.27 647.08 L577.75 646.5 L579.22 645.9 L580.68 645.28 L582.14 644.65 L583.59 644 L585.02 643.34 L586.46 642.66 L587.88 641.97 L589.29 641.26 L590.69 640.53 L592.09 639.78 L593.47 639.01 L594.85 638.23 L596.21 637.42 L597.56 636.6 L598.91 635.76 L600.24 634.9 L601.56 634.02 L602.87 633.11 L604.16 632.19 L605.45 631.26 L606.72 630.3 L607.98 629.32 L609.23 628.33 L610.46 627.32 L611.68 626.29 L612.89 625.24 L614.08 624.18 L615.25 623.1 L616.42 622 L617.56 620.89 L618.7 619.76 L619.81 618.61 L620.91 617.45 L622 616.28 L623.06 615.09 L624.12 613.88 L625.15 612.66 L626.17 611.43 L627.16 610.18 L628.15 608.92 L629.11 607.64 L630.05 606.35 L630.98 605.05 L631.88 603.74 L632.77 602.41 L633.64 601.07 L634.48 599.72 L635.31 598.36 L636.12 596.99 L636.91 595.6 L637.68 594.21 L638.44 592.8 L639.18 591.39 L639.9 589.96 L640.6 588.53 L641.29 587.09 L641.96 585.64 L642.62 584.18 L643.26 582.71 L643.89 581.23 L644.51 579.75 L645.11 578.26 L645.7 576.77 L646.27 575.27 L646.84 573.76 L647.39 572.25 L647.93 570.73 L648.46 569.21 L648.98 567.69 L649.49 566.15 L649.98 564.62 L650.47 563.08 L650.95 561.54 L651.43 560 L651.89 558.46 L652.35 556.91 L652.8 555.36 L653.24 553.81 L653.67 552.26 L654.1 550.71 L654.53 549.15 L654.95 547.6 L655.37 546.05 L655.79 544.5 L656.21 542.95 L656.62 541.4 L657.04 539.85 L657.46 538.3 L657.88 536.76 L658.3 535.21 L658.73 533.67 L659.16 532.14 L659.6 530.6 L660.04 529.07 L660.49 527.54 L660.95 526.02 L661.42 524.5 L661.9 522.98 L662.38 521.47 L662.88 519.97 L663.39 518.47 L663.92 516.97 L664.46 515.49 L665.01 514 L665.58 512.53 L666.16 511.06 L666.76 509.6 L667.38 508.14 L668.02 506.69 L668.68 505.26 L669.36 503.82 L670.05 502.4 L670.78 500.99" fill="none" stroke="#aaaaff" stroke-width="0.8" stroke-linejoin="round" stroke-linecap="round" clip-path="url(#cf)" stroke-dasharray="1.5 1.5"/>
<path d="M432.36 684.41 L433.79 683.55 L435.22 682.72 L436.65 681.89 L438.09 681.09 L439.54 680.3 L441 679.53 L442.46 678.77 L443.92 678.03 L445.39 677.31 L446.87 676.6 L448.35 675.9 L449.83 675.22 L451.33 674.56 L452.82 673.91 L454.32 673.27 L455.83 672.65 L457.34 672.04 L458.85 671.45 L460.37 670.86 L461.9 670.29 L463.42 669.74 L464.96 669.19 L466.49 668.66 L468.03 668.14 L469.58 667.63 L471.12 667.13 L472.67 666.64 L474.23 666.16 L475.79 665.69 L477.35 665.24 L478.91 664.79 L480.48 664.35 L482.05 663.92 L483.62 663.51 L485.2 663.1 L486.77 662.69 L488.35 662.3 L489.94 661.91 L491.52 661.54 L493.11 661.17 L494.7 660.8 L496.29 660.45 L497.89 660.1 L499.48 659.76 L501.08 659.42 L502.68 659.09 L504.28 658.76 L505.88 658.44 L507.48 658.13 L509.09 657.82 L510.69 657.52 L512.3 657.21 L513.91 656.92 L515.52 656.63 L517.12 656.34 L518.73 656.05 L520.34 655.77 L521.95 655.49 L523.57 655.22 L525.18 654.94 L526.79 654.68 L528.4 654.41 L530.02 654.15 L531.63 653.89 L533.25 653.63 L534.86 653.38 L536.48 653.13 L538.09 652.89 L539.71 652.64 L541.33 652.4 L542.95 652.16 L544.57 651.93 L546.19 651.7 L547.81 651.47 L549.43 651.24 L551.05 651.02 L552.67 650.8 L554.29 650.58 L555.91 650.36 L557.53 650.15 L559.15 649.93 L560.78 649.72 L562.4 649.52 L564.02 649.31 L565.65 649.11 L567.27 648.91 L568.9 648.71 L570.52 648.51 L572.15 648.32 L573.77 648.12 L575.4 647.93 L577.03 647.74 L578.65 647.56 L580.28 647.37 L581.9 647.19 L583.53 647 L585.16 646.82 L586.79 646.64 L588.41 646.46 L590.04 646.29 L591.67 646.11 L593.3 645.94 L594.92 645.77 L596.55 645.6 L598.18 645.42 L599.81 645.26 L601.44 645.09 L603.07 644.92 L604.69 644.75 L606.32 644.59 L607.95 644.43 L609.58 644.26 L611.21 644.1 L612.84 643.94 L614.47 643.78 L616.09 643.62 L617.72 643.45 L619.35 643.3 L620.98 643.14 L622.61 642.98 L624.24 642.82 L625.86 642.66 L627.49 642.5 L629.12 642.35 L630.75 642.19 L632.37 642.03 L634 641.87 L635.63 641.72 L637.26 641.56 L638.88 641.4 L640.51 641.25 L642.13 641.09 L643.76 640.93 L645.39 640.77 L647.01 640.62 L648.64 640.46 L650.26 640.3 L651.89 640.14 L653.51 639.98 L655.14 639.82 L656.76 639.66 L658.38 639.5 L660.01 639.33 L661.63 639.17 L663.25 639.01 L664.87 638.84 L666.49 638.68 L668.11 638.51 L669.73 638.34 L671.35 638.17 L672.97 638 L674.59 637.83 L676.21 637.66 L677.83 637.49 L679.45 637.31 L681.07 637.14 L682.68 636.96 L684.3 636.78 L685.91 636.6" fill="none" stroke="#ff00ff" stroke-width="3.4" stroke-linejoin="round" stroke-linecap="round" clip-path="url(#cf)"/>
<rect x="433.9" y="503.6" width="250.6" height="179.4" fill="none" stroke="#888" stroke-width="1.4"/>
<line x1="430.4" y1="673.3" x2="433.9" y2="673.3" stroke="#444" stroke-width="1"/>
<line x1="430.4" y1="635.55" x2="433.9" y2="635.55" stroke="#444" stroke-width="1"/>
<line x1="430.4" y1="597.8" x2="433.9" y2="597.8" stroke="#444" stroke-width="1"/>
<line x1="430.4" y1="560.05" x2="433.9" y2="560.05" stroke="#444" stroke-width="1"/>
<line x1="430.4" y1="522.3" x2="433.9" y2="522.3" stroke="#444" stroke-width="1"/>
<line x1="431.9" y1="654.42" x2="433.9" y2="654.42" stroke="#444" stroke-width="1"/>
<line x1="431.9" y1="616.67" x2="433.9" y2="616.67" stroke="#444" stroke-width="1"/>
<line x1="431.9" y1="578.92" x2="433.9" y2="578.92" stroke="#444" stroke-width="1"/>
<line x1="431.9" y1="541.17" x2="433.9" y2="541.17" stroke="#444" stroke-width="1"/>
<line x1="431.9" y1="503.42" x2="433.9" y2="503.42" stroke="#444" stroke-width="1"/>
<line x1="433.9" y1="683" x2="433.9" y2="686.5" stroke="#444" stroke-width="1"/>
<line x1="479.48" y1="683" x2="479.48" y2="686.5" stroke="#444" stroke-width="1"/>
<line x1="525.06" y1="683" x2="525.06" y2="686.5" stroke="#444" stroke-width="1"/>
<line x1="570.64" y1="683" x2="570.64" y2="686.5" stroke="#444" stroke-width="1"/>
<line x1="616.22" y1="683" x2="616.22" y2="686.5" stroke="#444" stroke-width="1"/>
<line x1="661.8" y1="683" x2="661.8" y2="686.5" stroke="#444" stroke-width="1"/>
<line x1="456.69" y1="683" x2="456.69" y2="685" stroke="#444" stroke-width="1"/>
<line x1="502.27" y1="683" x2="502.27" y2="685" stroke="#444" stroke-width="1"/>
<line x1="547.85" y1="683" x2="547.85" y2="685" stroke="#444" stroke-width="1"/>
<line x1="593.43" y1="683" x2="593.43" y2="685" stroke="#444" stroke-width="1"/>
<line x1="639.01" y1="683" x2="639.01" y2="685" stroke="#444" stroke-width="1"/>
<line x1="684.59" y1="683" x2="684.59" y2="685" stroke="#444" stroke-width="1"/>
<text x="428.2" y="677.1" font-size="10.8" font-weight="normal" text-anchor="end" fill="#000">0.000000</text>
<text x="428.2" y="639.35" font-size="10.8" font-weight="normal" text-anchor="end" fill="#000">0.000004</text>
<text x="428.2" y="601.6" font-size="10.8" font-weight="normal" text-anchor="end" fill="#000">0.000008</text>
<text x="428.2" y="563.85" font-size="10.8" font-weight="normal" text-anchor="end" fill="#000">0.000012</text>
<text x="428.2" y="526.1" font-size="10.8" font-weight="normal" text-anchor="end" fill="#000">0.000016</text>
<text x="433.9" y="697.6" font-size="10.8" font-weight="normal" text-anchor="middle" fill="#000">-1.0</text>
<text x="479.48" y="697.6" font-size="10.8" font-weight="normal" text-anchor="middle" fill="#000">-0.8</text>
<text x="525.06" y="697.6" font-size="10.8" font-weight="normal" text-anchor="middle" fill="#000">-0.6</text>
<text x="570.64" y="697.6" font-size="10.8" font-weight="normal" text-anchor="middle" fill="#000">-0.4</text>
<text x="616.22" y="697.6" font-size="10.8" font-weight="normal" text-anchor="middle" fill="#000">-0.2</text>
<text x="661.8" y="697.6" font-size="10.8" font-weight="normal" text-anchor="middle" fill="#000">0.0</text>
<text x="559.2" y="716.9" font-size="13.5" font-weight="bold" text-anchor="middle" fill="#000">Potential (V)</text>
<text x="369.3" y="589" font-size="13.3" font-weight="bold" text-anchor="middle" fill="#000" transform="rotate(-90 369.3 589)">Current (&#956;A)</text>
<text x="366" y="498.3" font-size="13.3" font-weight="bold" text-anchor="start" fill="#000">(f)</text>
<line x1="442.1" y1="514.4" x2="468" y2="514.4" stroke="#111" stroke-width="1.2"/>
<circle cx="455.05" cy="514.4" r="1.5" fill="#111" stroke="#111" stroke-width="0.8"/>
<text x="472.1" y="518.5" font-size="11.5" font-weight="bold" text-anchor="start" fill="#000">SANDY SOIL</text>
<line x1="442.1" y1="529.1" x2="468" y2="529.1" stroke="#ff0a0a" stroke-width="1.2"/>
<circle cx="455.05" cy="529.1" r="1.5" fill="#ff0a0a" stroke="#ff0a0a" stroke-width="0.8"/>
<text x="472.1" y="533.2" font-size="11.5" font-weight="bold" text-anchor="start" fill="#000">BLACK SOIL</text>
<line x1="442.1" y1="543.6" x2="468" y2="543.6" stroke="#0000f4" stroke-width="1.2"/>
<circle cx="455.05" cy="543.6" r="1.5" fill="#0000f4" stroke="#0000f4" stroke-width="0.8"/>
<text x="472.1" y="547.7" font-size="11.5" font-weight="bold" text-anchor="start" fill="#000">COMPOST I</text>
<line x1="442.1" y1="558.2" x2="468" y2="558.2" stroke="#ff00ff" stroke-width="1.2"/>
<circle cx="455.05" cy="558.2" r="1.5" fill="#ff00ff" stroke="#ff00ff" stroke-width="0.8"/>
<text x="472.1" y="562.3" font-size="11.5" font-weight="bold" text-anchor="start" fill="#000">COMPOST II</text>
<clipPath id="cg"><rect x="239.5" y="751" width="248.1" height="195.2"/></clipPath>
<rect x="239.5" y="751" width="248.1" height="195.2" fill="#b0ffe0"/>
<line x1="239.5" y1="934.6" x2="487.6" y2="934.6" stroke="#707070" stroke-width="1.6"/>
<line x1="460" y1="751" x2="460" y2="946.2" stroke="#707070" stroke-width="1.6"/>
<path d="M236.07 944.42 L236.99 943.68 L237.92 942.96 L238.86 942.25 L239.81 941.57 L240.76 940.9 L241.73 940.24 L242.71 939.61 L243.69 938.98 L244.69 938.38 L245.69 937.78 L246.7 937.2 L247.72 936.64 L248.74 936.08 L249.78 935.54 L250.81 935.01 L251.86 934.49 L252.91 933.99 L253.96 933.49 L255.02 933 L256.09 932.53 L257.16 932.06 L258.23 931.6 L259.31 931.14 L260.39 930.7 L261.47 930.26 L262.56 929.83 L263.65 929.4 L264.74 928.98 L265.83 928.57 L266.93 928.15 L268.02 927.75 L269.12 927.34 L270.22 926.95 L271.32 926.55 L272.42 926.16 L273.52 925.77 L274.63 925.39 L275.73 925.01 L276.84 924.63 L277.94 924.26 L279.05 923.89 L280.16 923.53 L281.27 923.17 L282.38 922.81 L283.49 922.45 L284.61 922.1 L285.72 921.76 L286.84 921.41 L287.95 921.07 L289.07 920.73 L290.19 920.4 L291.31 920.06 L292.43 919.73 L293.55 919.41 L294.67 919.08 L295.79 918.76 L296.92 918.44 L298.04 918.13 L299.17 917.82 L300.29 917.51 L301.42 917.2 L302.55 916.89 L303.67 916.59 L304.8 916.29 L305.93 915.99 L307.06 915.69 L308.19 915.4 L309.32 915.11 L310.45 914.82 L311.59 914.53 L312.72 914.24 L313.85 913.96 L314.98 913.68 L316.12 913.4 L317.25 913.12 L318.39 912.84 L319.52 912.56 L320.66 912.29 L321.79 912.02 L322.93 911.74 L324.07 911.47 L325.2 911.2 L326.34 910.93 L327.48 910.66 L328.62 910.39 L329.75 910.13 L330.89 909.86 L332.03 909.59 L333.17 909.33 L334.31 909.06 L335.44 908.79 L336.58 908.53 L337.72 908.26 L338.86 908 L340 907.73 L341.13 907.46 L342.27 907.2 L343.41 906.93 L344.55 906.66 L345.68 906.39 L346.82 906.12 L347.96 905.85 L349.09 905.58 L350.23 905.31 L351.37 905.04 L352.5 904.77 L353.64 904.49 L354.77 904.22 L355.91 903.94 L357.04 903.66 L358.17 903.38 L359.31 903.1 L360.44 902.81 L361.57 902.53 L362.7 902.24 L363.84 901.95 L364.97 901.66 L366.1 901.37 L367.22 901.07 L368.35 900.77 L369.48 900.47 L370.61 900.17 L371.73 899.86 L372.86 899.55 L373.98 899.24 L375.11 898.93 L376.23 898.61 L377.35 898.29 L378.47 897.97 L379.59 897.64 L380.71 897.31 L381.83 896.98 L382.95 896.64 L384.07 896.3 L385.18 895.96 L386.3 895.61 L387.41 895.26 L388.52 894.91 L389.63 894.55 L390.74 894.19 L391.85 893.82 L392.96 893.45 L394.06 893.07 L395.17 892.7 L396.27 892.31 L397.37 891.92 L398.47 891.53 L399.57 891.13 L400.67 890.73 L401.77 890.32 L402.86 889.91 L403.96 889.49 L405.05 889.06 L406.13 888.62 L407.21 888.17 L408.28 887.7 L409.34 887.22 L410.39 886.72 L411.43 886.2 L412.45 885.65 L413.47 885.08 L414.46 884.48 L415.44 883.86 L416.41 883.2 L417.35 882.51 L418.28 881.8 L419.18 881.06 L420.07 880.3 L420.94 879.51 L421.78 878.7 L422.61 877.87 L423.42 877.03 L424.2 876.17 L424.97 875.29 L425.72 874.4 L426.45 873.5 L427.16 872.58 L427.87 871.66 L428.57 870.74 L429.28 869.82 L429.99 868.91 L430.7 868 L431.43 867.11 L432.18 866.23 L432.94 865.36 L433.73 864.51 L434.53 863.67 L435.34 862.84 L436.17 862.03 L437 861.22 L437.85 860.41 L438.69 859.6 L439.54 858.8 L440.38 857.99 L441.22 857.18 L442.05 856.36 L442.88 855.53 L443.69 854.69 L444.5 853.85 L445.3 853 L446.1 852.14 L446.89 851.29 L447.69 850.43 L448.47 849.56 L449.26 848.7 L450.04 847.83 L450.81 846.96 L451.59 846.08 L452.35 845.2 L453.11 844.32 L453.87 843.43 L454.62 842.54 L455.36 841.64 L456.1 840.74 L456.83 839.83" fill="none" stroke="#3a2a2a" stroke-width="1.3" stroke-linejoin="round" stroke-linecap="round" clip-path="url(#cg)"/>
<path d="M456.8 839.8 L457.6 836.5 L459.7 817.8 L462.1 799.2 L464.4 774.4 L466.5 750 L466.7 748" fill="none" stroke="#3a2a2a" stroke-width="1.3" stroke-linejoin="round" stroke-linecap="round" clip-path="url(#cg)"/>
<rect x="239.5" y="751" width="248.1" height="195.2" fill="none" stroke="#606060" stroke-width="1.5"/>
<line x1="236" y1="934.6" x2="239.5" y2="934.6" stroke="#444" stroke-width="1"/>
<line x1="236" y1="888.8" x2="239.5" y2="888.8" stroke="#444" stroke-width="1"/>
<line x1="236" y1="843" x2="239.5" y2="843" stroke="#444" stroke-width="1"/>
<line x1="236" y1="797.2" x2="239.5" y2="797.2" stroke="#444" stroke-width="1"/>
<line x1="236" y1="751.4" x2="239.5" y2="751.4" stroke="#444" stroke-width="1"/>
<line x1="237.5" y1="911.7" x2="239.5" y2="911.7" stroke="#444" stroke-width="1"/>
<line x1="237.5" y1="865.9" x2="239.5" y2="865.9" stroke="#444" stroke-width="1"/>
<line x1="237.5" y1="820.1" x2="239.5" y2="820.1" stroke="#444" stroke-width="1"/>
<line x1="237.5" y1="774.3" x2="239.5" y2="774.3" stroke="#444" stroke-width="1"/>
<line x1="322.3" y1="946.2" x2="322.3" y2="949.7" stroke="#444" stroke-width="1"/>
<line x1="460" y1="946.2" x2="460" y2="949.7" stroke="#444" stroke-width="1"/>
<line x1="253.45" y1="946.2" x2="253.45" y2="948.2" stroke="#444" stroke-width="1"/>
<line x1="391.15" y1="946.2" x2="391.15" y2="948.2" stroke="#444" stroke-width="1"/>
<text x="232" y="937.6" font-size="8.6" font-weight="bold" text-anchor="end" fill="#000">0.000000</text>
<text x="232" y="891.8" font-size="8.6" font-weight="bold" text-anchor="end" fill="#000">0.000004</text>
<text x="232" y="846" font-size="8.6" font-weight="bold" text-anchor="end" fill="#000">0.000008</text>
<text x="232" y="800.2" font-size="8.6" font-weight="bold" text-anchor="end" fill="#000">0.000012</text>
<text x="232" y="754.4" font-size="8.6" font-weight="bold" text-anchor="end" fill="#000">0.000016</text>
<text x="322.3" y="960" font-size="8.6" font-weight="bold" text-anchor="middle" fill="#000">-0.5</text>
<text x="460" y="960" font-size="8.6" font-weight="bold" text-anchor="middle" fill="#000">0.0</text>
<text x="363.6" y="977.7" font-size="10.8" font-weight="bold" text-anchor="middle" fill="#000">Potential (V)</text>
<text x="181.5" y="845.5" font-size="10.6" font-weight="bold" text-anchor="middle" fill="#000" transform="rotate(-90 181.5 845.5)">Current (&#956;A)</text>
<line x1="246.1" y1="762.3" x2="268" y2="762.3" stroke="#222" stroke-width="1.1"/>
<circle cx="257.05" cy="762.3" r="0.6" fill="#222" stroke="#222" stroke-width="0.8"/>
<text x="271.5" y="765.8" font-size="9.8" font-weight="bold" text-anchor="start" fill="#000">SANDY SOIL</text>
</svg>
</body></html>
